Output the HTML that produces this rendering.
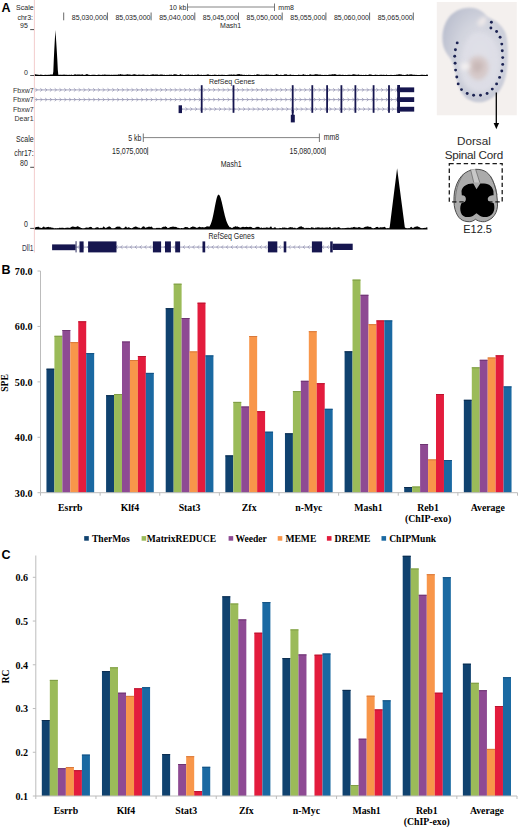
<!DOCTYPE html>
<html><head><meta charset="utf-8"><style>
html,body{margin:0;padding:0;background:#fff;}
body{width:520px;height:829px;overflow:hidden;position:relative;}
svg{position:absolute;left:0;top:0;display:block;}
</style></head><body>
<svg width="520" height="829" viewBox="0 0 520 829">
<rect x="0" y="0" width="520" height="829" fill="#ffffff"/>
<text x="1.50" y="12.00" font-family='"Liberation Sans", sans-serif' font-size="12.5" font-weight="bold" text-anchor="start" fill="#000" >A</text>
<text x="1.50" y="274.30" font-family='"Liberation Sans", sans-serif' font-size="12.5" font-weight="bold" text-anchor="start" fill="#000" >B</text>
<text x="1.50" y="558.90" font-family='"Liberation Sans", sans-serif' font-size="12.5" font-weight="bold" text-anchor="start" fill="#000" >C</text>
<rect x="46.46" y="368.70" width="7.95" height="124.00" fill="#10426f" />
<rect x="46.46" y="368.70" width="7.95" height="1.00" fill="#0b2c4e" />
<rect x="54.41" y="335.80" width="7.95" height="156.90" fill="#9bbb59" />
<rect x="54.41" y="335.80" width="7.95" height="1.00" fill="#7f9d45" />
<rect x="62.36" y="330.00" width="7.95" height="162.70" fill="#8e4a93" />
<rect x="62.36" y="330.00" width="7.95" height="1.00" fill="#6e3572" />
<rect x="70.31" y="342.10" width="7.95" height="150.60" fill="#f8964a" />
<rect x="70.31" y="342.10" width="7.95" height="1.00" fill="#d9793a" />
<rect x="78.26" y="321.30" width="7.95" height="171.40" fill="#e31c3d" />
<rect x="78.26" y="321.30" width="7.95" height="1.00" fill="#b8142f" />
<rect x="86.21" y="353.10" width="7.95" height="139.60" fill="#1a69a2" />
<rect x="86.21" y="353.10" width="7.95" height="1.00" fill="#135182" />
<rect x="106.09" y="395.20" width="7.95" height="97.50" fill="#10426f" />
<rect x="106.09" y="395.20" width="7.95" height="1.00" fill="#0b2c4e" />
<rect x="114.04" y="394.00" width="7.95" height="98.70" fill="#9bbb59" />
<rect x="114.04" y="394.00" width="7.95" height="1.00" fill="#7f9d45" />
<rect x="121.99" y="341.50" width="7.95" height="151.20" fill="#8e4a93" />
<rect x="121.99" y="341.50" width="7.95" height="1.00" fill="#6e3572" />
<rect x="129.94" y="360.00" width="7.95" height="132.70" fill="#f8964a" />
<rect x="129.94" y="360.00" width="7.95" height="1.00" fill="#d9793a" />
<rect x="137.89" y="356.00" width="7.95" height="136.70" fill="#e31c3d" />
<rect x="137.89" y="356.00" width="7.95" height="1.00" fill="#b8142f" />
<rect x="145.84" y="372.90" width="7.95" height="119.80" fill="#1a69a2" />
<rect x="145.84" y="372.90" width="7.95" height="1.00" fill="#135182" />
<rect x="165.71" y="308.20" width="7.95" height="184.50" fill="#10426f" />
<rect x="165.71" y="308.20" width="7.95" height="1.00" fill="#0b2c4e" />
<rect x="173.66" y="283.70" width="7.95" height="209.00" fill="#9bbb59" />
<rect x="173.66" y="283.70" width="7.95" height="1.00" fill="#7f9d45" />
<rect x="181.61" y="318.00" width="7.95" height="174.70" fill="#8e4a93" />
<rect x="181.61" y="318.00" width="7.95" height="1.00" fill="#6e3572" />
<rect x="189.56" y="351.40" width="7.95" height="141.30" fill="#f8964a" />
<rect x="189.56" y="351.40" width="7.95" height="1.00" fill="#d9793a" />
<rect x="197.51" y="302.70" width="7.95" height="190.00" fill="#e31c3d" />
<rect x="197.51" y="302.70" width="7.95" height="1.00" fill="#b8142f" />
<rect x="205.46" y="355.40" width="7.95" height="137.30" fill="#1a69a2" />
<rect x="205.46" y="355.40" width="7.95" height="1.00" fill="#135182" />
<rect x="225.34" y="455.40" width="7.95" height="37.30" fill="#10426f" />
<rect x="225.34" y="455.40" width="7.95" height="1.00" fill="#0b2c4e" />
<rect x="233.29" y="401.90" width="7.95" height="90.80" fill="#9bbb59" />
<rect x="233.29" y="401.90" width="7.95" height="1.00" fill="#7f9d45" />
<rect x="241.24" y="406.50" width="7.95" height="86.20" fill="#8e4a93" />
<rect x="241.24" y="406.50" width="7.95" height="1.00" fill="#6e3572" />
<rect x="249.19" y="336.00" width="7.95" height="156.70" fill="#f8964a" />
<rect x="249.19" y="336.00" width="7.95" height="1.00" fill="#d9793a" />
<rect x="257.14" y="411.20" width="7.95" height="81.50" fill="#e31c3d" />
<rect x="257.14" y="411.20" width="7.95" height="1.00" fill="#b8142f" />
<rect x="265.09" y="431.70" width="7.95" height="61.00" fill="#1a69a2" />
<rect x="265.09" y="431.70" width="7.95" height="1.00" fill="#135182" />
<rect x="284.96" y="433.30" width="7.95" height="59.40" fill="#10426f" />
<rect x="284.96" y="433.30" width="7.95" height="1.00" fill="#0b2c4e" />
<rect x="292.91" y="391.10" width="7.95" height="101.60" fill="#9bbb59" />
<rect x="292.91" y="391.10" width="7.95" height="1.00" fill="#7f9d45" />
<rect x="300.86" y="380.80" width="7.95" height="111.90" fill="#8e4a93" />
<rect x="300.86" y="380.80" width="7.95" height="1.00" fill="#6e3572" />
<rect x="308.81" y="331.20" width="7.95" height="161.50" fill="#f8964a" />
<rect x="308.81" y="331.20" width="7.95" height="1.00" fill="#d9793a" />
<rect x="316.76" y="383.20" width="7.95" height="109.50" fill="#e31c3d" />
<rect x="316.76" y="383.20" width="7.95" height="1.00" fill="#b8142f" />
<rect x="324.71" y="408.80" width="7.95" height="83.90" fill="#1a69a2" />
<rect x="324.71" y="408.80" width="7.95" height="1.00" fill="#135182" />
<rect x="344.59" y="351.30" width="7.95" height="141.40" fill="#10426f" />
<rect x="344.59" y="351.30" width="7.95" height="1.00" fill="#0b2c4e" />
<rect x="352.54" y="279.60" width="7.95" height="213.10" fill="#9bbb59" />
<rect x="352.54" y="279.60" width="7.95" height="1.00" fill="#7f9d45" />
<rect x="360.49" y="294.80" width="7.95" height="197.90" fill="#8e4a93" />
<rect x="360.49" y="294.80" width="7.95" height="1.00" fill="#6e3572" />
<rect x="368.44" y="324.20" width="7.95" height="168.50" fill="#f8964a" />
<rect x="368.44" y="324.20" width="7.95" height="1.00" fill="#d9793a" />
<rect x="376.39" y="320.40" width="7.95" height="172.30" fill="#e31c3d" />
<rect x="376.39" y="320.40" width="7.95" height="1.00" fill="#b8142f" />
<rect x="384.34" y="320.40" width="7.95" height="172.30" fill="#1a69a2" />
<rect x="384.34" y="320.40" width="7.95" height="1.00" fill="#135182" />
<rect x="404.21" y="487.00" width="7.95" height="5.70" fill="#10426f" />
<rect x="404.21" y="487.00" width="7.95" height="1.00" fill="#0b2c4e" />
<rect x="412.16" y="486.50" width="7.95" height="6.20" fill="#9bbb59" />
<rect x="412.16" y="486.50" width="7.95" height="1.00" fill="#7f9d45" />
<rect x="420.11" y="444.00" width="7.95" height="48.70" fill="#8e4a93" />
<rect x="420.11" y="444.00" width="7.95" height="1.00" fill="#6e3572" />
<rect x="428.06" y="459.40" width="7.95" height="33.30" fill="#f8964a" />
<rect x="428.06" y="459.40" width="7.95" height="1.00" fill="#d9793a" />
<rect x="436.01" y="394.00" width="7.95" height="98.70" fill="#e31c3d" />
<rect x="436.01" y="394.00" width="7.95" height="1.00" fill="#b8142f" />
<rect x="443.96" y="460.00" width="7.95" height="32.70" fill="#1a69a2" />
<rect x="443.96" y="460.00" width="7.95" height="1.00" fill="#135182" />
<rect x="463.84" y="399.80" width="7.95" height="92.90" fill="#10426f" />
<rect x="463.84" y="399.80" width="7.95" height="1.00" fill="#0b2c4e" />
<rect x="471.79" y="367.30" width="7.95" height="125.40" fill="#9bbb59" />
<rect x="471.79" y="367.30" width="7.95" height="1.00" fill="#7f9d45" />
<rect x="479.74" y="359.80" width="7.95" height="132.90" fill="#8e4a93" />
<rect x="479.74" y="359.80" width="7.95" height="1.00" fill="#6e3572" />
<rect x="487.69" y="357.50" width="7.95" height="135.20" fill="#f8964a" />
<rect x="487.69" y="357.50" width="7.95" height="1.00" fill="#d9793a" />
<rect x="495.64" y="355.30" width="7.95" height="137.40" fill="#e31c3d" />
<rect x="495.64" y="355.30" width="7.95" height="1.00" fill="#b8142f" />
<rect x="503.59" y="386.40" width="7.95" height="106.30" fill="#1a69a2" />
<rect x="503.59" y="386.40" width="7.95" height="1.00" fill="#135182" />
<line x1="40.50" y1="271.00" x2="40.50" y2="492.70" stroke="#bcbcbc" stroke-width="1" />
<line x1="40.50" y1="492.70" x2="517.50" y2="492.70" stroke="#bcbcbc" stroke-width="1" />
<line x1="37.50" y1="271.02" x2="40.50" y2="271.02" stroke="#bcbcbc" stroke-width="1" />
<text x="32.50" y="274.86" font-family='"Liberation Serif", serif' font-size="10.1" font-weight="bold" text-anchor="end" fill="#000" >70.0</text>
<line x1="37.50" y1="326.44" x2="40.50" y2="326.44" stroke="#bcbcbc" stroke-width="1" />
<text x="32.50" y="330.28" font-family='"Liberation Serif", serif' font-size="10.1" font-weight="bold" text-anchor="end" fill="#000" >60.0</text>
<line x1="37.50" y1="381.86" x2="40.50" y2="381.86" stroke="#bcbcbc" stroke-width="1" />
<text x="32.50" y="385.70" font-family='"Liberation Serif", serif' font-size="10.1" font-weight="bold" text-anchor="end" fill="#000" >50.0</text>
<line x1="37.50" y1="437.28" x2="40.50" y2="437.28" stroke="#bcbcbc" stroke-width="1" />
<text x="32.50" y="441.12" font-family='"Liberation Serif", serif' font-size="10.1" font-weight="bold" text-anchor="end" fill="#000" >40.0</text>
<line x1="37.50" y1="492.70" x2="40.50" y2="492.70" stroke="#bcbcbc" stroke-width="1" />
<text x="32.50" y="496.54" font-family='"Liberation Serif", serif' font-size="10.1" font-weight="bold" text-anchor="end" fill="#000" >30.0</text>
<line x1="40.50" y1="492.70" x2="40.50" y2="495.70" stroke="#bcbcbc" stroke-width="1" />
<line x1="100.12" y1="492.70" x2="100.12" y2="495.70" stroke="#bcbcbc" stroke-width="1" />
<line x1="159.75" y1="492.70" x2="159.75" y2="495.70" stroke="#bcbcbc" stroke-width="1" />
<line x1="219.38" y1="492.70" x2="219.38" y2="495.70" stroke="#bcbcbc" stroke-width="1" />
<line x1="279.00" y1="492.70" x2="279.00" y2="495.70" stroke="#bcbcbc" stroke-width="1" />
<line x1="338.62" y1="492.70" x2="338.62" y2="495.70" stroke="#bcbcbc" stroke-width="1" />
<line x1="398.25" y1="492.70" x2="398.25" y2="495.70" stroke="#bcbcbc" stroke-width="1" />
<line x1="457.88" y1="492.70" x2="457.88" y2="495.70" stroke="#bcbcbc" stroke-width="1" />
<line x1="517.50" y1="492.70" x2="517.50" y2="495.70" stroke="#bcbcbc" stroke-width="1" />
<text x="70.31" y="510.70" font-family='"Liberation Serif", serif' font-size="9.8" font-weight="bold" text-anchor="middle" fill="#000" >Esrrb</text>
<text x="129.94" y="510.70" font-family='"Liberation Serif", serif' font-size="9.8" font-weight="bold" text-anchor="middle" fill="#000" >Klf4</text>
<text x="189.56" y="510.70" font-family='"Liberation Serif", serif' font-size="9.8" font-weight="bold" text-anchor="middle" fill="#000" >Stat3</text>
<text x="249.19" y="510.70" font-family='"Liberation Serif", serif' font-size="9.8" font-weight="bold" text-anchor="middle" fill="#000" >Zfx</text>
<text x="308.81" y="510.70" font-family='"Liberation Serif", serif' font-size="9.8" font-weight="bold" text-anchor="middle" fill="#000" >n-Myc</text>
<text x="368.44" y="510.70" font-family='"Liberation Serif", serif' font-size="9.8" font-weight="bold" text-anchor="middle" fill="#000" >Mash1</text>
<text x="428.06" y="510.70" font-family='"Liberation Serif", serif' font-size="9.8" font-weight="bold" text-anchor="middle" fill="#000" >Reb1</text>
<text x="487.69" y="510.70" font-family='"Liberation Serif", serif' font-size="9.8" font-weight="bold" text-anchor="middle" fill="#000" >Average</text>
<text x="428.06" y="521.90" font-family='"Liberation Serif", serif' font-size="9.8" font-weight="bold" text-anchor="middle" fill="#000" >(ChIP-exo)</text>
<text transform="translate(8.3,383) rotate(-90)" font-family='"Liberation Serif", serif' font-size="9.6" font-weight="bold" text-anchor="middle" fill="#000">SPE</text>
<rect x="41.81" y="720.00" width="8.02" height="76.00" fill="#10426f" />
<rect x="41.81" y="720.00" width="8.02" height="1.00" fill="#0b2c4e" />
<rect x="49.83" y="679.90" width="8.02" height="116.10" fill="#9bbb59" />
<rect x="49.83" y="679.90" width="8.02" height="1.00" fill="#7f9d45" />
<rect x="57.85" y="768.20" width="8.02" height="27.80" fill="#8e4a93" />
<rect x="57.85" y="768.20" width="8.02" height="1.00" fill="#6e3572" />
<rect x="65.88" y="767.00" width="8.02" height="29.00" fill="#f8964a" />
<rect x="65.88" y="767.00" width="8.02" height="1.00" fill="#d9793a" />
<rect x="73.89" y="770.20" width="8.02" height="25.80" fill="#e31c3d" />
<rect x="73.89" y="770.20" width="8.02" height="1.00" fill="#b8142f" />
<rect x="81.91" y="754.60" width="8.02" height="41.40" fill="#1a69a2" />
<rect x="81.91" y="754.60" width="8.02" height="1.00" fill="#135182" />
<rect x="101.96" y="671.10" width="8.02" height="124.90" fill="#10426f" />
<rect x="101.96" y="671.10" width="8.02" height="1.00" fill="#0b2c4e" />
<rect x="109.98" y="667.30" width="8.02" height="128.70" fill="#9bbb59" />
<rect x="109.98" y="667.30" width="8.02" height="1.00" fill="#7f9d45" />
<rect x="118.00" y="692.70" width="8.02" height="103.30" fill="#8e4a93" />
<rect x="118.00" y="692.70" width="8.02" height="1.00" fill="#6e3572" />
<rect x="126.02" y="695.90" width="8.02" height="100.10" fill="#f8964a" />
<rect x="126.02" y="695.90" width="8.02" height="1.00" fill="#d9793a" />
<rect x="134.04" y="688.30" width="8.02" height="107.70" fill="#e31c3d" />
<rect x="134.04" y="688.30" width="8.02" height="1.00" fill="#b8142f" />
<rect x="142.06" y="687.20" width="8.02" height="108.80" fill="#1a69a2" />
<rect x="142.06" y="687.20" width="8.02" height="1.00" fill="#135182" />
<rect x="162.11" y="754.10" width="8.02" height="41.90" fill="#10426f" />
<rect x="162.11" y="754.10" width="8.02" height="1.00" fill="#0b2c4e" />
<rect x="178.15" y="764.00" width="8.02" height="32.00" fill="#8e4a93" />
<rect x="178.15" y="764.00" width="8.02" height="1.00" fill="#6e3572" />
<rect x="186.17" y="756.20" width="8.02" height="39.80" fill="#f8964a" />
<rect x="186.17" y="756.20" width="8.02" height="1.00" fill="#d9793a" />
<rect x="194.19" y="791.10" width="8.02" height="4.90" fill="#e31c3d" />
<rect x="194.19" y="791.10" width="8.02" height="1.00" fill="#b8142f" />
<rect x="202.21" y="766.80" width="8.02" height="29.20" fill="#1a69a2" />
<rect x="202.21" y="766.80" width="8.02" height="1.00" fill="#135182" />
<rect x="222.26" y="596.30" width="8.02" height="199.70" fill="#10426f" />
<rect x="222.26" y="596.30" width="8.02" height="1.00" fill="#0b2c4e" />
<rect x="230.28" y="603.50" width="8.02" height="192.50" fill="#9bbb59" />
<rect x="230.28" y="603.50" width="8.02" height="1.00" fill="#7f9d45" />
<rect x="238.30" y="619.40" width="8.02" height="176.60" fill="#8e4a93" />
<rect x="238.30" y="619.40" width="8.02" height="1.00" fill="#6e3572" />
<rect x="254.34" y="632.70" width="8.02" height="163.30" fill="#e31c3d" />
<rect x="254.34" y="632.70" width="8.02" height="1.00" fill="#b8142f" />
<rect x="262.37" y="602.10" width="8.02" height="193.90" fill="#1a69a2" />
<rect x="262.37" y="602.10" width="8.02" height="1.00" fill="#135182" />
<rect x="282.41" y="658.10" width="8.02" height="137.90" fill="#10426f" />
<rect x="282.41" y="658.10" width="8.02" height="1.00" fill="#0b2c4e" />
<rect x="290.43" y="629.40" width="8.02" height="166.60" fill="#9bbb59" />
<rect x="290.43" y="629.40" width="8.02" height="1.00" fill="#7f9d45" />
<rect x="298.45" y="654.40" width="8.02" height="141.60" fill="#8e4a93" />
<rect x="298.45" y="654.40" width="8.02" height="1.00" fill="#6e3572" />
<rect x="314.49" y="654.70" width="8.02" height="141.30" fill="#e31c3d" />
<rect x="314.49" y="654.70" width="8.02" height="1.00" fill="#b8142f" />
<rect x="322.51" y="653.50" width="8.02" height="142.50" fill="#1a69a2" />
<rect x="322.51" y="653.50" width="8.02" height="1.00" fill="#135182" />
<rect x="342.56" y="689.90" width="8.02" height="106.10" fill="#10426f" />
<rect x="342.56" y="689.90" width="8.02" height="1.00" fill="#0b2c4e" />
<rect x="350.58" y="785.00" width="8.02" height="11.00" fill="#9bbb59" />
<rect x="350.58" y="785.00" width="8.02" height="1.00" fill="#7f9d45" />
<rect x="358.61" y="738.70" width="8.02" height="57.30" fill="#8e4a93" />
<rect x="358.61" y="738.70" width="8.02" height="1.00" fill="#6e3572" />
<rect x="366.62" y="695.70" width="8.02" height="100.30" fill="#f8964a" />
<rect x="366.62" y="695.70" width="8.02" height="1.00" fill="#d9793a" />
<rect x="374.64" y="709.40" width="8.02" height="86.60" fill="#e31c3d" />
<rect x="374.64" y="709.40" width="8.02" height="1.00" fill="#b8142f" />
<rect x="382.66" y="700.30" width="8.02" height="95.70" fill="#1a69a2" />
<rect x="382.66" y="700.30" width="8.02" height="1.00" fill="#135182" />
<rect x="402.71" y="555.80" width="8.02" height="240.20" fill="#10426f" />
<rect x="402.71" y="555.80" width="8.02" height="1.00" fill="#0b2c4e" />
<rect x="410.73" y="568.50" width="8.02" height="227.50" fill="#9bbb59" />
<rect x="410.73" y="568.50" width="8.02" height="1.00" fill="#7f9d45" />
<rect x="418.75" y="594.80" width="8.02" height="201.20" fill="#8e4a93" />
<rect x="418.75" y="594.80" width="8.02" height="1.00" fill="#6e3572" />
<rect x="426.77" y="574.20" width="8.02" height="221.80" fill="#f8964a" />
<rect x="426.77" y="574.20" width="8.02" height="1.00" fill="#d9793a" />
<rect x="434.79" y="692.70" width="8.02" height="103.30" fill="#e31c3d" />
<rect x="434.79" y="692.70" width="8.02" height="1.00" fill="#b8142f" />
<rect x="442.81" y="577.20" width="8.02" height="218.80" fill="#1a69a2" />
<rect x="442.81" y="577.20" width="8.02" height="1.00" fill="#135182" />
<rect x="462.87" y="663.70" width="8.02" height="132.30" fill="#10426f" />
<rect x="462.87" y="663.70" width="8.02" height="1.00" fill="#0b2c4e" />
<rect x="470.88" y="682.80" width="8.02" height="113.20" fill="#9bbb59" />
<rect x="470.88" y="682.80" width="8.02" height="1.00" fill="#7f9d45" />
<rect x="478.91" y="690.20" width="8.02" height="105.80" fill="#8e4a93" />
<rect x="478.91" y="690.20" width="8.02" height="1.00" fill="#6e3572" />
<rect x="486.93" y="748.90" width="8.02" height="47.10" fill="#f8964a" />
<rect x="486.93" y="748.90" width="8.02" height="1.00" fill="#d9793a" />
<rect x="494.94" y="706.00" width="8.02" height="90.00" fill="#e31c3d" />
<rect x="494.94" y="706.00" width="8.02" height="1.00" fill="#b8142f" />
<rect x="502.97" y="677.20" width="8.02" height="118.80" fill="#1a69a2" />
<rect x="502.97" y="677.20" width="8.02" height="1.00" fill="#135182" />
<line x1="35.80" y1="555.50" x2="35.80" y2="796.00" stroke="#bcbcbc" stroke-width="1" />
<line x1="35.80" y1="796.00" x2="517.00" y2="796.00" stroke="#bcbcbc" stroke-width="1" />
<line x1="32.80" y1="577.30" x2="35.80" y2="577.30" stroke="#bcbcbc" stroke-width="1" />
<text x="28.00" y="581.13" font-family='"Liberation Serif", serif' font-size="10.1" font-weight="bold" text-anchor="end" fill="#000" >0.6</text>
<line x1="32.80" y1="621.04" x2="35.80" y2="621.04" stroke="#bcbcbc" stroke-width="1" />
<text x="28.00" y="624.87" font-family='"Liberation Serif", serif' font-size="10.1" font-weight="bold" text-anchor="end" fill="#000" >0.5</text>
<line x1="32.80" y1="664.78" x2="35.80" y2="664.78" stroke="#bcbcbc" stroke-width="1" />
<text x="28.00" y="668.61" font-family='"Liberation Serif", serif' font-size="10.1" font-weight="bold" text-anchor="end" fill="#000" >0.4</text>
<line x1="32.80" y1="708.52" x2="35.80" y2="708.52" stroke="#bcbcbc" stroke-width="1" />
<text x="28.00" y="712.35" font-family='"Liberation Serif", serif' font-size="10.1" font-weight="bold" text-anchor="end" fill="#000" >0.3</text>
<line x1="32.80" y1="752.26" x2="35.80" y2="752.26" stroke="#bcbcbc" stroke-width="1" />
<text x="28.00" y="756.09" font-family='"Liberation Serif", serif' font-size="10.1" font-weight="bold" text-anchor="end" fill="#000" >0.2</text>
<line x1="32.80" y1="796.00" x2="35.80" y2="796.00" stroke="#bcbcbc" stroke-width="1" />
<text x="28.00" y="799.83" font-family='"Liberation Serif", serif' font-size="10.1" font-weight="bold" text-anchor="end" fill="#000" >0.1</text>
<line x1="35.80" y1="796.00" x2="35.80" y2="799.00" stroke="#bcbcbc" stroke-width="1" />
<line x1="95.95" y1="796.00" x2="95.95" y2="799.00" stroke="#bcbcbc" stroke-width="1" />
<line x1="156.10" y1="796.00" x2="156.10" y2="799.00" stroke="#bcbcbc" stroke-width="1" />
<line x1="216.25" y1="796.00" x2="216.25" y2="799.00" stroke="#bcbcbc" stroke-width="1" />
<line x1="276.40" y1="796.00" x2="276.40" y2="799.00" stroke="#bcbcbc" stroke-width="1" />
<line x1="336.55" y1="796.00" x2="336.55" y2="799.00" stroke="#bcbcbc" stroke-width="1" />
<line x1="396.70" y1="796.00" x2="396.70" y2="799.00" stroke="#bcbcbc" stroke-width="1" />
<line x1="456.85" y1="796.00" x2="456.85" y2="799.00" stroke="#bcbcbc" stroke-width="1" />
<line x1="517.00" y1="796.00" x2="517.00" y2="799.00" stroke="#bcbcbc" stroke-width="1" />
<text x="65.88" y="813.80" font-family='"Liberation Serif", serif' font-size="9.8" font-weight="bold" text-anchor="middle" fill="#000" >Esrrb</text>
<text x="126.02" y="813.80" font-family='"Liberation Serif", serif' font-size="9.8" font-weight="bold" text-anchor="middle" fill="#000" >Klf4</text>
<text x="186.18" y="813.80" font-family='"Liberation Serif", serif' font-size="9.8" font-weight="bold" text-anchor="middle" fill="#000" >Stat3</text>
<text x="246.32" y="813.80" font-family='"Liberation Serif", serif' font-size="9.8" font-weight="bold" text-anchor="middle" fill="#000" >Zfx</text>
<text x="306.48" y="813.80" font-family='"Liberation Serif", serif' font-size="9.8" font-weight="bold" text-anchor="middle" fill="#000" >n-Myc</text>
<text x="366.62" y="813.80" font-family='"Liberation Serif", serif' font-size="9.8" font-weight="bold" text-anchor="middle" fill="#000" >Mash1</text>
<text x="426.77" y="813.80" font-family='"Liberation Serif", serif' font-size="9.8" font-weight="bold" text-anchor="middle" fill="#000" >Reb1</text>
<text x="486.93" y="813.80" font-family='"Liberation Serif", serif' font-size="9.8" font-weight="bold" text-anchor="middle" fill="#000" >Average</text>
<text x="426.77" y="825.00" font-family='"Liberation Serif", serif' font-size="9.8" font-weight="bold" text-anchor="middle" fill="#000" >(ChIP-exo)</text>
<text transform="translate(9.2,676.5) rotate(-90)" font-family='"Liberation Serif", serif' font-size="9.6" font-weight="bold" text-anchor="middle" fill="#000">RC</text>
<rect x="84.20" y="536.10" width="4.60" height="4.60" fill="#10426f" />
<text x="91.90" y="541.90" font-family='"Liberation Serif", serif' font-size="9.6" font-weight="bold" text-anchor="start" fill="#000" >TherMos</text>
<rect x="141.60" y="536.10" width="4.60" height="4.60" fill="#9bbb59" />
<text x="146.80" y="541.90" font-family='"Liberation Serif", serif' font-size="9.6" font-weight="bold" text-anchor="start" fill="#000" >MatrixREDUCE</text>
<rect x="228.60" y="536.10" width="4.60" height="4.60" fill="#8e4a93" />
<text x="235.40" y="541.90" font-family='"Liberation Serif", serif' font-size="9.6" font-weight="bold" text-anchor="start" fill="#000" >Weeder</text>
<rect x="277.70" y="536.10" width="4.60" height="4.60" fill="#f8964a" />
<text x="285.40" y="541.90" font-family='"Liberation Serif", serif' font-size="9.6" font-weight="bold" text-anchor="start" fill="#000" >MEME</text>
<rect x="326.90" y="536.10" width="4.60" height="4.60" fill="#e31c3d" />
<text x="334.60" y="541.90" font-family='"Liberation Serif", serif' font-size="9.6" font-weight="bold" text-anchor="start" fill="#000" >DREME</text>
<rect x="381.50" y="536.10" width="4.60" height="4.60" fill="#1a69a2" />
<text x="389.20" y="541.90" font-family='"Liberation Serif", serif' font-size="9.6" font-weight="bold" text-anchor="start" fill="#000" >ChIPMunk</text>
<line x1="34.40" y1="0.00" x2="34.40" y2="252.50" stroke="#f0c6c6" stroke-width="0.9" />
<text x="33.60" y="9.80" font-family='"Liberation Sans", sans-serif' font-size="7.0" font-weight="normal" text-anchor="end" fill="#1e1e1e" >Scale</text>
<text x="33.00" y="20.00" font-family='"Liberation Sans", sans-serif' font-size="7.0" font-weight="normal" text-anchor="end" fill="#1e1e1e" >chr3:</text>
<text x="27.80" y="28.30" font-family='"Liberation Sans", sans-serif' font-size="7.0" font-weight="normal" text-anchor="end" fill="#1e1e1e" >95</text>
<line x1="30.20" y1="29.60" x2="34.00" y2="29.60" stroke="#1e1e1e" stroke-width="0.8" />
<text x="27.80" y="75.00" font-family='"Liberation Sans", sans-serif' font-size="7.0" font-weight="normal" text-anchor="end" fill="#1e1e1e" >0</text>
<line x1="30.20" y1="75.50" x2="34.00" y2="75.50" stroke="#1e1e1e" stroke-width="0.8" />
<text x="186.30" y="10.00" font-family='"Liberation Sans", sans-serif' font-size="7.0" font-weight="normal" text-anchor="end" fill="#1e1e1e" >10 kb</text>
<line x1="187.50" y1="7.00" x2="274.50" y2="7.00" stroke="#777" stroke-width="0.9" />
<line x1="187.50" y1="3.50" x2="187.50" y2="11.00" stroke="#555" stroke-width="0.8" />
<line x1="274.50" y1="3.50" x2="274.50" y2="11.00" stroke="#555" stroke-width="0.8" />
<text x="278.30" y="10.00" font-family='"Liberation Sans", sans-serif' font-size="7.0" font-weight="normal" text-anchor="start" fill="#1e1e1e" >mm8</text>
<line x1="63.70" y1="12.50" x2="63.70" y2="20.30" stroke="#444" stroke-width="0.8" />
<line x1="107.40" y1="12.50" x2="107.40" y2="20.30" stroke="#444" stroke-width="0.8" />
<text x="106.80" y="19.80" font-family='"Liberation Sans", sans-serif' font-size="7.0" font-weight="normal" text-anchor="end" fill="#1e1e1e" >85,030,000</text>
<line x1="151.10" y1="12.50" x2="151.10" y2="20.30" stroke="#444" stroke-width="0.8" />
<text x="150.50" y="19.80" font-family='"Liberation Sans", sans-serif' font-size="7.0" font-weight="normal" text-anchor="end" fill="#1e1e1e" >85,035,000</text>
<line x1="194.80" y1="12.50" x2="194.80" y2="20.30" stroke="#444" stroke-width="0.8" />
<text x="194.20" y="19.80" font-family='"Liberation Sans", sans-serif' font-size="7.0" font-weight="normal" text-anchor="end" fill="#1e1e1e" >85,040,000</text>
<line x1="238.50" y1="12.50" x2="238.50" y2="20.30" stroke="#444" stroke-width="0.8" />
<text x="237.90" y="19.80" font-family='"Liberation Sans", sans-serif' font-size="7.0" font-weight="normal" text-anchor="end" fill="#1e1e1e" >85,045,000</text>
<line x1="282.20" y1="12.50" x2="282.20" y2="20.30" stroke="#444" stroke-width="0.8" />
<text x="281.60" y="19.80" font-family='"Liberation Sans", sans-serif' font-size="7.0" font-weight="normal" text-anchor="end" fill="#1e1e1e" >85,050,000</text>
<line x1="325.90" y1="12.50" x2="325.90" y2="20.30" stroke="#444" stroke-width="0.8" />
<text x="325.30" y="19.80" font-family='"Liberation Sans", sans-serif' font-size="7.0" font-weight="normal" text-anchor="end" fill="#1e1e1e" >85,055,000</text>
<line x1="369.60" y1="12.50" x2="369.60" y2="20.30" stroke="#444" stroke-width="0.8" />
<text x="369.00" y="19.80" font-family='"Liberation Sans", sans-serif' font-size="7.0" font-weight="normal" text-anchor="end" fill="#1e1e1e" >85,060,000</text>
<line x1="413.30" y1="12.50" x2="413.30" y2="20.30" stroke="#444" stroke-width="0.8" />
<text x="412.70" y="19.80" font-family='"Liberation Sans", sans-serif' font-size="7.0" font-weight="normal" text-anchor="end" fill="#1e1e1e" >85,065,000</text>
<text x="230.60" y="27.50" font-family='"Liberation Sans", sans-serif' font-size="7.0" font-weight="normal" text-anchor="middle" fill="#1e1e1e" >Mash1</text>
<path d="M34.8,76.1 L34.80,74.35 L35.30,74.34 L35.80,74.28 L36.30,74.44 L36.80,74.41 L37.30,74.50 L37.80,74.87 L38.30,74.87 L38.80,74.83 L39.30,74.89 L39.80,74.75 L40.30,74.67 L40.80,74.52 L41.30,74.57 L41.80,74.97 L42.30,74.83 L42.80,75.00 L43.30,75.00 L43.80,74.89 L44.30,74.71 L44.80,75.00 L45.30,74.77 L45.80,74.71 L46.30,74.99 L46.80,74.80 L47.30,74.73 L47.80,74.96 L48.30,74.80 L48.80,74.78 L49.30,74.85 L49.80,74.72 L50.30,74.58 L50.80,74.42 L51.30,74.49 L51.80,74.58 L52.30,74.46 L52.80,74.42 L53.30,71.66 L53.80,59.41 L54.30,49.37 L54.80,40.23 L55.30,31.66 L55.40,30.00 L55.80,35.69 L56.30,43.11 L56.80,50.99 L57.30,59.57 L57.80,69.65 L58.30,74.75 L58.80,74.84 L59.30,74.92 L59.80,74.52 L60.30,74.57 L60.80,75.00 L61.30,74.76 L61.80,74.73 L62.30,74.82 L62.80,74.76 L63.30,74.76 L63.80,74.45 L64.30,74.44 L64.80,74.83 L65.30,74.70 L65.80,74.77 L66.30,74.86 L66.80,74.80 L67.30,74.99 L67.80,74.70 L68.30,74.67 L68.80,75.00 L69.30,74.84 L69.80,74.83 L70.30,74.89 L70.80,74.74 L71.30,74.73 L71.80,74.49 L72.30,74.91 L72.80,74.89 L73.30,74.86 L73.80,75.00 L74.30,74.51 L74.80,74.33 L75.30,74.16 L75.80,74.58 L76.30,74.69 L76.80,74.50 L77.30,74.59 L77.80,74.42 L78.30,74.60 L78.80,74.43 L79.30,74.44 L79.80,74.51 L80.30,74.52 L80.80,74.77 L81.30,74.64 L81.80,74.35 L82.30,74.37 L82.80,74.52 L83.30,74.74 L83.80,74.96 L84.30,75.00 L84.80,74.66 L85.30,74.84 L85.80,74.38 L86.30,74.37 L86.80,74.11 L87.30,74.22 L87.80,74.19 L88.30,74.73 L88.80,74.70 L89.30,74.82 L89.80,74.99 L90.30,74.90 L90.80,74.89 L91.30,74.71 L91.80,74.91 L92.30,74.65 L92.80,74.64 L93.30,74.74 L93.80,74.75 L94.30,74.64 L94.80,74.79 L95.30,74.90 L95.80,74.83 L96.30,74.96 L96.80,75.00 L97.30,75.00 L97.80,74.84 L98.30,74.66 L98.80,74.54 L99.30,74.63 L99.80,74.87 L100.30,74.66 L100.80,74.92 L101.30,74.73 L101.80,74.90 L102.30,74.63 L102.80,74.42 L103.30,74.68 L103.80,74.69 L104.30,74.42 L104.80,74.45 L105.30,74.55 L105.80,74.77 L106.30,74.63 L106.80,74.69 L107.30,74.79 L107.80,74.66 L108.30,74.86 L108.80,74.78 L109.30,74.70 L109.80,74.78 L110.30,74.90 L110.80,74.78 L111.30,74.83 L111.80,74.83 L112.30,74.84 L112.80,74.95 L113.30,74.84 L113.80,74.83 L114.30,74.68 L114.80,74.76 L115.30,74.73 L115.80,74.75 L116.30,74.64 L116.80,74.67 L117.30,74.74 L117.80,74.75 L118.30,74.52 L118.80,74.37 L119.30,74.39 L119.80,74.48 L120.30,74.08 L120.80,74.26 L121.30,74.33 L121.80,74.65 L122.30,74.57 L122.80,74.52 L123.30,74.66 L123.80,74.68 L124.30,74.55 L124.80,74.91 L125.30,74.73 L125.80,74.47 L126.30,74.49 L126.80,74.54 L127.30,74.32 L127.80,74.32 L128.30,74.51 L128.80,74.53 L129.30,74.24 L129.80,74.63 L130.30,74.83 L130.80,74.56 L131.30,74.83 L131.80,74.90 L132.30,74.73 L132.80,74.46 L133.30,74.62 L133.80,74.28 L134.30,74.21 L134.80,74.18 L135.30,74.52 L135.80,74.47 L136.30,74.80 L136.80,74.79 L137.30,75.00 L137.80,74.76 L138.30,74.62 L138.80,74.80 L139.30,74.81 L139.80,74.46 L140.30,74.66 L140.80,74.71 L141.30,75.00 L141.80,74.51 L142.30,74.55 L142.80,74.65 L143.30,74.58 L143.80,74.44 L144.30,74.49 L144.80,74.88 L145.30,74.78 L145.80,75.00 L146.30,74.66 L146.80,74.93 L147.30,74.69 L147.80,74.79 L148.30,74.85 L148.80,75.00 L149.30,74.89 L149.80,75.00 L150.30,75.00 L150.80,74.62 L151.30,74.69 L151.80,74.39 L152.30,74.57 L152.80,74.29 L153.30,74.28 L153.80,74.51 L154.30,74.67 L154.80,74.55 L155.30,74.41 L155.80,74.55 L156.30,74.50 L156.80,74.61 L157.30,74.42 L157.80,74.39 L158.30,74.85 L158.80,75.00 L159.30,74.80 L159.80,74.74 L160.30,74.56 L160.80,74.60 L161.30,74.64 L161.80,74.37 L162.30,74.78 L162.80,74.61 L163.30,75.00 L163.80,74.82 L164.30,74.66 L164.80,74.70 L165.30,74.88 L165.80,75.00 L166.30,74.74 L166.80,74.92 L167.30,74.86 L167.80,75.00 L168.30,74.79 L168.80,74.98 L169.30,74.77 L169.80,74.52 L170.30,74.45 L170.80,74.95 L171.30,74.63 L171.80,74.58 L172.30,74.88 L172.80,74.92 L173.30,74.65 L173.80,74.32 L174.30,74.45 L174.80,74.12 L175.30,74.16 L175.80,74.51 L176.30,74.23 L176.80,74.82 L177.30,74.93 L177.80,74.82 L178.30,75.00 L178.80,74.96 L179.30,75.00 L179.80,74.56 L180.30,74.20 L180.80,74.23 L181.30,74.69 L181.80,74.78 L182.30,74.58 L182.80,75.00 L183.30,75.00 L183.80,75.00 L184.30,75.00 L184.80,75.00 L185.30,74.83 L185.80,74.78 L186.30,74.81 L186.80,74.73 L187.30,74.69 L187.80,74.71 L188.30,74.55 L188.80,74.44 L189.30,74.73 L189.80,75.00 L190.30,75.00 L190.80,74.68 L191.30,74.85 L191.80,74.98 L192.30,74.85 L192.80,74.87 L193.30,74.89 L193.80,74.98 L194.30,74.73 L194.80,74.69 L195.30,74.87 L195.80,74.66 L196.30,74.91 L196.80,74.64 L197.30,74.52 L197.80,74.46 L198.30,74.51 L198.80,74.60 L199.30,74.99 L199.80,74.66 L200.30,75.00 L200.80,74.63 L201.30,74.66 L201.80,74.68 L202.30,75.00 L202.80,75.00 L203.30,74.74 L203.80,74.92 L204.30,74.96 L204.80,74.66 L205.30,75.00 L205.80,74.86 L206.30,74.70 L206.80,74.67 L207.30,74.42 L207.80,74.23 L208.30,74.20 L208.80,74.78 L209.30,74.72 L209.80,75.00 L210.30,74.75 L210.80,75.00 L211.30,75.00 L211.80,74.96 L212.30,74.78 L212.80,74.99 L213.30,75.00 L213.80,74.75 L214.30,74.70 L214.80,74.58 L215.30,74.83 L215.80,74.81 L216.30,75.00 L216.80,74.87 L217.30,74.98 L217.80,74.98 L218.30,74.76 L218.80,74.67 L219.30,74.86 L219.80,75.00 L220.30,74.82 L220.80,74.93 L221.30,74.66 L221.80,74.79 L222.30,74.73 L222.80,74.80 L223.30,74.88 L223.80,74.70 L224.30,74.73 L224.80,75.00 L225.30,75.00 L225.80,74.96 L226.30,74.89 L226.80,75.00 L227.30,74.98 L227.80,74.86 L228.30,75.00 L228.80,74.53 L229.30,74.57 L229.80,74.76 L230.30,74.68 L230.80,74.58 L231.30,74.59 L231.80,74.43 L232.30,74.66 L232.80,74.68 L233.30,74.74 L233.80,74.30 L234.30,74.62 L234.80,74.72 L235.30,75.00 L235.80,74.61 L236.30,74.74 L236.80,74.40 L237.30,74.29 L237.80,74.18 L238.30,74.19 L238.80,74.11 L239.30,74.11 L239.80,74.21 L240.30,74.60 L240.80,74.50 L241.30,74.58 L241.80,74.49 L242.30,74.71 L242.80,74.80 L243.30,74.78 L243.80,74.97 L244.30,74.68 L244.80,74.83 L245.30,74.95 L245.80,74.92 L246.30,74.66 L246.80,74.88 L247.30,75.00 L247.80,75.00 L248.30,74.81 L248.80,74.87 L249.30,74.70 L249.80,75.00 L250.30,74.94 L250.80,74.79 L251.30,75.00 L251.80,75.00 L252.30,74.88 L252.80,75.00 L253.30,75.00 L253.80,74.95 L254.30,74.74 L254.80,74.78 L255.30,75.00 L255.80,75.00 L256.30,74.52 L256.80,74.38 L257.30,74.44 L257.80,74.03 L258.30,74.51 L258.80,74.52 L259.30,74.51 L259.80,74.79 L260.30,75.00 L260.80,74.70 L261.30,74.85 L261.80,74.72 L262.30,74.70 L262.80,74.94 L263.30,74.81 L263.80,74.88 L264.30,74.68 L264.80,74.69 L265.30,74.64 L265.80,74.51 L266.30,74.36 L266.80,74.69 L267.30,74.71 L267.80,74.46 L268.30,74.50 L268.80,74.70 L269.30,74.80 L269.80,74.90 L270.30,74.69 L270.80,74.75 L271.30,74.86 L271.80,75.00 L272.30,74.72 L272.80,74.92 L273.30,75.00 L273.80,75.00 L274.30,74.80 L274.80,75.00 L275.30,74.82 L275.80,74.50 L276.30,74.11 L276.80,74.24 L277.30,74.32 L277.80,74.79 L278.30,74.86 L278.80,74.87 L279.30,74.89 L279.80,74.88 L280.30,74.74 L280.80,74.67 L281.30,74.95 L281.80,74.84 L282.30,75.00 L282.80,75.00 L283.30,74.90 L283.80,74.80 L284.30,74.62 L284.80,74.25 L285.30,74.55 L285.80,74.29 L286.30,74.18 L286.80,74.45 L287.30,74.71 L287.80,74.97 L288.30,74.95 L288.80,74.68 L289.30,74.64 L289.80,74.70 L290.30,74.57 L290.80,74.57 L291.30,74.66 L291.80,74.96 L292.30,74.92 L292.80,74.75 L293.30,74.96 L293.80,74.78 L294.30,74.91 L294.80,74.98 L295.30,74.92 L295.80,75.00 L296.30,74.97 L296.80,74.94 L297.30,75.00 L297.80,74.95 L298.30,74.83 L298.80,74.52 L299.30,74.71 L299.80,74.98 L300.30,74.65 L300.80,75.00 L301.30,74.89 L301.80,74.78 L302.30,74.69 L302.80,74.52 L303.30,74.18 L303.80,74.36 L304.30,74.48 L304.80,74.90 L305.30,74.66 L305.80,74.79 L306.30,75.00 L306.80,75.00 L307.30,74.67 L307.80,75.00 L308.30,75.00 L308.80,75.00 L309.30,74.77 L309.80,74.32 L310.30,74.49 L310.80,74.37 L311.30,74.50 L311.80,75.00 L312.30,74.84 L312.80,74.65 L313.30,74.79 L313.80,74.67 L314.30,74.64 L314.80,74.22 L315.30,74.11 L315.80,74.47 L316.30,74.21 L316.80,74.27 L317.30,74.17 L317.80,74.51 L318.30,74.53 L318.80,74.63 L319.30,74.66 L319.80,74.53 L320.30,74.60 L320.80,74.76 L321.30,74.81 L321.80,75.00 L322.30,74.96 L322.80,74.82 L323.30,75.00 L323.80,74.90 L324.30,74.70 L324.80,75.00 L325.30,74.72 L325.80,75.00 L326.30,74.96 L326.80,74.70 L327.30,75.00 L327.80,74.89 L328.30,74.88 L328.80,74.55 L329.30,74.45 L329.80,74.83 L330.30,74.71 L330.80,74.39 L331.30,74.45 L331.80,74.52 L332.30,74.17 L332.80,74.33 L333.30,74.23 L333.80,74.49 L334.30,74.04 L334.80,74.28 L335.30,74.24 L335.80,74.33 L336.30,74.81 L336.80,74.79 L337.30,74.93 L337.80,74.77 L338.30,74.66 L338.80,74.79 L339.30,74.65 L339.80,74.41 L340.30,74.61 L340.80,74.89 L341.30,75.00 L341.80,74.87 L342.30,74.85 L342.80,74.66 L343.30,74.88 L343.80,74.85 L344.30,75.00 L344.80,74.94 L345.30,75.00 L345.80,74.80 L346.30,75.00 L346.80,75.00 L347.30,74.90 L347.80,74.78 L348.30,74.80 L348.80,74.65 L349.30,74.88 L349.80,74.58 L350.30,74.74 L350.80,74.88 L351.30,75.00 L351.80,74.83 L352.30,74.53 L352.80,74.45 L353.30,74.28 L353.80,74.18 L354.30,74.43 L354.80,74.35 L355.30,74.46 L355.80,74.63 L356.30,74.71 L356.80,74.76 L357.30,74.88 L357.80,74.61 L358.30,74.52 L358.80,74.62 L359.30,74.63 L359.80,74.96 L360.30,75.00 L360.80,74.87 L361.30,74.71 L361.80,74.94 L362.30,75.00 L362.80,75.00 L363.30,75.00 L363.80,74.84 L364.30,75.00 L364.80,75.00 L365.30,74.81 L365.80,74.66 L366.30,74.98 L366.80,74.85 L367.30,74.89 L367.80,75.00 L368.30,74.79 L368.80,74.74 L369.30,74.58 L369.80,74.26 L370.30,74.31 L370.80,74.69 L371.30,74.78 L371.80,74.61 L372.30,75.00 L372.80,74.98 L373.30,74.92 L373.80,74.96 L374.30,74.92 L374.80,74.84 L375.30,74.71 L375.80,74.47 L376.30,74.67 L376.80,74.95 L377.30,74.81 L377.80,75.00 L378.30,74.89 L378.80,74.99 L379.30,74.68 L379.80,74.97 L380.30,74.75 L380.80,74.83 L381.30,74.73 L381.80,74.85 L382.30,74.71 L382.80,74.95 L383.30,74.81 L383.80,74.84 L384.30,74.89 L384.80,74.87 L385.30,74.88 L385.80,74.94 L386.30,74.62 L386.80,74.79 L387.30,74.88 L387.80,75.00 L388.30,74.90 L388.80,75.00 L389.30,75.00 L389.80,74.93 L390.30,74.84 L390.80,74.97 L391.30,74.96 L391.80,74.85 L392.30,74.91 L392.80,74.95 L393.30,75.00 L393.80,74.96 L394.30,74.82 L394.80,74.88 L395.30,74.88 L395.80,74.73 L396.30,74.69 L396.80,74.58 L397.30,74.78 L397.80,74.53 L398.30,74.26 L398.80,74.47 L399.30,74.08 L399.80,74.48 L400.30,74.17 L400.80,74.59 L401.30,74.38 L401.80,74.51 L402.30,74.89 L402.80,74.71 L403.30,75.00 L403.80,74.73 L404.30,74.96 L404.80,74.93 L405.30,75.00 L405.80,74.73 L406.30,74.73 L406.80,74.43 L407.30,74.36 L407.80,74.55 L408.30,75.00 L408.80,74.52 L409.30,74.40 L409.80,74.41 L410.30,74.46 L410.80,74.34 L411.30,74.21 L411.80,74.50 L412.30,74.46 L412.80,74.70 L413.30,74.94 L413.80,74.58 L414.30,74.77 L414.80,74.64 L415.30,74.95 L415.80,74.82 L416.30,75.00 L416.80,74.80 L417.30,75.00 L417.80,75.00 L418.30,75.00 L418.80,75.00 L419.30,74.90 L419.80,74.97 L420.30,75.00 L420.80,74.66 L421.30,74.70 L421.80,74.81 L422.30,74.72 L422.80,74.72 L423.30,75.00 L423.80,74.75 L424.30,75.00 L424.80,74.87 L425.30,74.97 L425.80,75.00 L426.30,74.65 L426.80,74.43 L427.30,74.65 L427.80,74.38 L428.0,76.1 Z" fill="#000"/>
<text x="254.80" y="83.50" font-family='"Liberation Sans", sans-serif' font-size="7.0" font-weight="normal" text-anchor="end" fill="#1e1e1e" >RefSeq Genes</text>
<text x="33.60" y="92.90" font-family='"Liberation Sans", sans-serif' font-size="7.0" font-weight="normal" text-anchor="end" fill="#333" >Fbxw7</text>
<text x="33.60" y="102.30" font-family='"Liberation Sans", sans-serif' font-size="7.0" font-weight="normal" text-anchor="end" fill="#333" >Fbxw7</text>
<text x="33.60" y="111.60" font-family='"Liberation Sans", sans-serif' font-size="7.0" font-weight="normal" text-anchor="end" fill="#333" >Fbxw7</text>
<text x="33.60" y="120.80" font-family='"Liberation Sans", sans-serif' font-size="7.0" font-weight="normal" text-anchor="end" fill="#333" >Dear1</text>
<line x1="34.80" y1="89.90" x2="414.00" y2="89.90" stroke="#8e8eae" stroke-width="0.8" />
<path d="M35.5,88.3 L37.4,89.9 L35.5,91.5 M40.3,88.3 L42.2,89.9 L40.3,91.5 M45.1,88.3 L47.0,89.9 L45.1,91.5 M49.9,88.3 L51.8,89.9 L49.9,91.5 M54.7,88.3 L56.6,89.9 L54.7,91.5 M59.5,88.3 L61.4,89.9 L59.5,91.5 M64.3,88.3 L66.2,89.9 L64.3,91.5 M69.1,88.3 L71.0,89.9 L69.1,91.5 M73.9,88.3 L75.8,89.9 L73.9,91.5 M78.7,88.3 L80.6,89.9 L78.7,91.5 M83.5,88.3 L85.4,89.9 L83.5,91.5 M88.3,88.3 L90.2,89.9 L88.3,91.5 M93.1,88.3 L95.0,89.9 L93.1,91.5 M97.9,88.3 L99.8,89.9 L97.9,91.5 M102.7,88.3 L104.6,89.9 L102.7,91.5 M107.5,88.3 L109.4,89.9 L107.5,91.5 M112.3,88.3 L114.2,89.9 L112.3,91.5 M117.1,88.3 L119.0,89.9 L117.1,91.5 M121.9,88.3 L123.8,89.9 L121.9,91.5 M126.7,88.3 L128.6,89.9 L126.7,91.5 M131.5,88.3 L133.4,89.9 L131.5,91.5 M136.3,88.3 L138.2,89.9 L136.3,91.5 M141.1,88.3 L143.0,89.9 L141.1,91.5 M145.9,88.3 L147.8,89.9 L145.9,91.5 M150.7,88.3 L152.6,89.9 L150.7,91.5 M155.5,88.3 L157.4,89.9 L155.5,91.5 M160.3,88.3 L162.2,89.9 L160.3,91.5 M165.1,88.3 L167.0,89.9 L165.1,91.5 M169.9,88.3 L171.8,89.9 L169.9,91.5 M174.7,88.3 L176.6,89.9 L174.7,91.5 M179.5,88.3 L181.4,89.9 L179.5,91.5 M184.3,88.3 L186.2,89.9 L184.3,91.5 M189.1,88.3 L191.0,89.9 L189.1,91.5 M193.9,88.3 L195.8,89.9 L193.9,91.5 M198.7,88.3 L200.6,89.9 L198.7,91.5 M203.5,88.3 L205.4,89.9 L203.5,91.5 M208.3,88.3 L210.2,89.9 L208.3,91.5 M213.1,88.3 L215.0,89.9 L213.1,91.5 M217.9,88.3 L219.8,89.9 L217.9,91.5 M222.7,88.3 L224.6,89.9 L222.7,91.5 M227.5,88.3 L229.4,89.9 L227.5,91.5 M232.3,88.3 L234.2,89.9 L232.3,91.5 M237.1,88.3 L239.0,89.9 L237.1,91.5 M241.9,88.3 L243.8,89.9 L241.9,91.5 M246.7,88.3 L248.6,89.9 L246.7,91.5 M251.5,88.3 L253.4,89.9 L251.5,91.5 M256.3,88.3 L258.2,89.9 L256.3,91.5 M261.1,88.3 L263.0,89.9 L261.1,91.5 M265.9,88.3 L267.8,89.9 L265.9,91.5 M270.7,88.3 L272.6,89.9 L270.7,91.5 M275.5,88.3 L277.4,89.9 L275.5,91.5 M280.3,88.3 L282.2,89.9 L280.3,91.5 M285.1,88.3 L287.0,89.9 L285.1,91.5 M289.9,88.3 L291.8,89.9 L289.9,91.5 M294.7,88.3 L296.6,89.9 L294.7,91.5 M299.5,88.3 L301.4,89.9 L299.5,91.5 M304.3,88.3 L306.2,89.9 L304.3,91.5 M309.1,88.3 L311.0,89.9 L309.1,91.5 M313.9,88.3 L315.8,89.9 L313.9,91.5 M318.7,88.3 L320.6,89.9 L318.7,91.5 M323.5,88.3 L325.4,89.9 L323.5,91.5 M328.3,88.3 L330.2,89.9 L328.3,91.5 M333.1,88.3 L335.0,89.9 L333.1,91.5 M337.9,88.3 L339.8,89.9 L337.9,91.5 M342.7,88.3 L344.6,89.9 L342.7,91.5 M347.5,88.3 L349.4,89.9 L347.5,91.5 M352.3,88.3 L354.2,89.9 L352.3,91.5 M357.1,88.3 L359.0,89.9 L357.1,91.5 M361.9,88.3 L363.8,89.9 L361.9,91.5 M366.7,88.3 L368.6,89.9 L366.7,91.5 M371.5,88.3 L373.4,89.9 L371.5,91.5 M376.3,88.3 L378.2,89.9 L376.3,91.5 M381.1,88.3 L383.0,89.9 L381.1,91.5 M385.9,88.3 L387.8,89.9 L385.9,91.5 M390.7,88.3 L392.6,89.9 L390.7,91.5 M395.5,88.3 L397.4,89.9 L395.5,91.5 M400.3,88.3 L402.2,89.9 L400.3,91.5 M405.1,88.3 L407.0,89.9 L405.1,91.5 M409.9,88.3 L411.8,89.9 L409.9,91.5" fill="none" stroke="#8e8eae" stroke-width="0.7"/>
<line x1="34.80" y1="99.60" x2="414.00" y2="99.60" stroke="#8e8eae" stroke-width="0.8" />
<path d="M35.5,98.0 L37.4,99.6 L35.5,101.2 M40.3,98.0 L42.2,99.6 L40.3,101.2 M45.1,98.0 L47.0,99.6 L45.1,101.2 M49.9,98.0 L51.8,99.6 L49.9,101.2 M54.7,98.0 L56.6,99.6 L54.7,101.2 M59.5,98.0 L61.4,99.6 L59.5,101.2 M64.3,98.0 L66.2,99.6 L64.3,101.2 M69.1,98.0 L71.0,99.6 L69.1,101.2 M73.9,98.0 L75.8,99.6 L73.9,101.2 M78.7,98.0 L80.6,99.6 L78.7,101.2 M83.5,98.0 L85.4,99.6 L83.5,101.2 M88.3,98.0 L90.2,99.6 L88.3,101.2 M93.1,98.0 L95.0,99.6 L93.1,101.2 M97.9,98.0 L99.8,99.6 L97.9,101.2 M102.7,98.0 L104.6,99.6 L102.7,101.2 M107.5,98.0 L109.4,99.6 L107.5,101.2 M112.3,98.0 L114.2,99.6 L112.3,101.2 M117.1,98.0 L119.0,99.6 L117.1,101.2 M121.9,98.0 L123.8,99.6 L121.9,101.2 M126.7,98.0 L128.6,99.6 L126.7,101.2 M131.5,98.0 L133.4,99.6 L131.5,101.2 M136.3,98.0 L138.2,99.6 L136.3,101.2 M141.1,98.0 L143.0,99.6 L141.1,101.2 M145.9,98.0 L147.8,99.6 L145.9,101.2 M150.7,98.0 L152.6,99.6 L150.7,101.2 M155.5,98.0 L157.4,99.6 L155.5,101.2 M160.3,98.0 L162.2,99.6 L160.3,101.2 M165.1,98.0 L167.0,99.6 L165.1,101.2 M169.9,98.0 L171.8,99.6 L169.9,101.2 M174.7,98.0 L176.6,99.6 L174.7,101.2 M179.5,98.0 L181.4,99.6 L179.5,101.2 M184.3,98.0 L186.2,99.6 L184.3,101.2 M189.1,98.0 L191.0,99.6 L189.1,101.2 M193.9,98.0 L195.8,99.6 L193.9,101.2 M198.7,98.0 L200.6,99.6 L198.7,101.2 M203.5,98.0 L205.4,99.6 L203.5,101.2 M208.3,98.0 L210.2,99.6 L208.3,101.2 M213.1,98.0 L215.0,99.6 L213.1,101.2 M217.9,98.0 L219.8,99.6 L217.9,101.2 M222.7,98.0 L224.6,99.6 L222.7,101.2 M227.5,98.0 L229.4,99.6 L227.5,101.2 M232.3,98.0 L234.2,99.6 L232.3,101.2 M237.1,98.0 L239.0,99.6 L237.1,101.2 M241.9,98.0 L243.8,99.6 L241.9,101.2 M246.7,98.0 L248.6,99.6 L246.7,101.2 M251.5,98.0 L253.4,99.6 L251.5,101.2 M256.3,98.0 L258.2,99.6 L256.3,101.2 M261.1,98.0 L263.0,99.6 L261.1,101.2 M265.9,98.0 L267.8,99.6 L265.9,101.2 M270.7,98.0 L272.6,99.6 L270.7,101.2 M275.5,98.0 L277.4,99.6 L275.5,101.2 M280.3,98.0 L282.2,99.6 L280.3,101.2 M285.1,98.0 L287.0,99.6 L285.1,101.2 M289.9,98.0 L291.8,99.6 L289.9,101.2 M294.7,98.0 L296.6,99.6 L294.7,101.2 M299.5,98.0 L301.4,99.6 L299.5,101.2 M304.3,98.0 L306.2,99.6 L304.3,101.2 M309.1,98.0 L311.0,99.6 L309.1,101.2 M313.9,98.0 L315.8,99.6 L313.9,101.2 M318.7,98.0 L320.6,99.6 L318.7,101.2 M323.5,98.0 L325.4,99.6 L323.5,101.2 M328.3,98.0 L330.2,99.6 L328.3,101.2 M333.1,98.0 L335.0,99.6 L333.1,101.2 M337.9,98.0 L339.8,99.6 L337.9,101.2 M342.7,98.0 L344.6,99.6 L342.7,101.2 M347.5,98.0 L349.4,99.6 L347.5,101.2 M352.3,98.0 L354.2,99.6 L352.3,101.2 M357.1,98.0 L359.0,99.6 L357.1,101.2 M361.9,98.0 L363.8,99.6 L361.9,101.2 M366.7,98.0 L368.6,99.6 L366.7,101.2 M371.5,98.0 L373.4,99.6 L371.5,101.2 M376.3,98.0 L378.2,99.6 L376.3,101.2 M381.1,98.0 L383.0,99.6 L381.1,101.2 M385.9,98.0 L387.8,99.6 L385.9,101.2 M390.7,98.0 L392.6,99.6 L390.7,101.2 M395.5,98.0 L397.4,99.6 L395.5,101.2 M400.3,98.0 L402.2,99.6 L400.3,101.2 M405.1,98.0 L407.0,99.6 L405.1,101.2 M409.9,98.0 L411.8,99.6 L409.9,101.2" fill="none" stroke="#8e8eae" stroke-width="0.7"/>
<line x1="180.00" y1="109.10" x2="414.00" y2="109.10" stroke="#8e8eae" stroke-width="0.8" />
<path d="M180.7,107.5 L182.6,109.1 L180.7,110.7 M185.5,107.5 L187.4,109.1 L185.5,110.7 M190.3,107.5 L192.2,109.1 L190.3,110.7 M195.1,107.5 L197.0,109.1 L195.1,110.7 M199.9,107.5 L201.8,109.1 L199.9,110.7 M204.7,107.5 L206.6,109.1 L204.7,110.7 M209.5,107.5 L211.4,109.1 L209.5,110.7 M214.3,107.5 L216.2,109.1 L214.3,110.7 M219.1,107.5 L221.0,109.1 L219.1,110.7 M223.9,107.5 L225.8,109.1 L223.9,110.7 M228.7,107.5 L230.6,109.1 L228.7,110.7 M233.5,107.5 L235.4,109.1 L233.5,110.7 M238.3,107.5 L240.2,109.1 L238.3,110.7 M243.1,107.5 L245.0,109.1 L243.1,110.7 M247.9,107.5 L249.8,109.1 L247.9,110.7 M252.7,107.5 L254.6,109.1 L252.7,110.7 M257.5,107.5 L259.4,109.1 L257.5,110.7 M262.3,107.5 L264.2,109.1 L262.3,110.7 M267.1,107.5 L269.0,109.1 L267.1,110.7 M271.9,107.5 L273.8,109.1 L271.9,110.7 M276.7,107.5 L278.6,109.1 L276.7,110.7 M281.5,107.5 L283.4,109.1 L281.5,110.7 M286.3,107.5 L288.2,109.1 L286.3,110.7 M291.1,107.5 L293.0,109.1 L291.1,110.7 M295.9,107.5 L297.8,109.1 L295.9,110.7 M300.7,107.5 L302.6,109.1 L300.7,110.7 M305.5,107.5 L307.4,109.1 L305.5,110.7 M310.3,107.5 L312.2,109.1 L310.3,110.7 M315.1,107.5 L317.0,109.1 L315.1,110.7 M319.9,107.5 L321.8,109.1 L319.9,110.7 M324.7,107.5 L326.6,109.1 L324.7,110.7 M329.5,107.5 L331.4,109.1 L329.5,110.7 M334.3,107.5 L336.2,109.1 L334.3,110.7 M339.1,107.5 L341.0,109.1 L339.1,110.7 M343.9,107.5 L345.8,109.1 L343.9,110.7 M348.7,107.5 L350.6,109.1 L348.7,110.7 M353.5,107.5 L355.4,109.1 L353.5,110.7 M358.3,107.5 L360.2,109.1 L358.3,110.7 M363.1,107.5 L365.0,109.1 L363.1,110.7 M367.9,107.5 L369.8,109.1 L367.9,110.7 M372.7,107.5 L374.6,109.1 L372.7,110.7 M377.5,107.5 L379.4,109.1 L377.5,110.7 M382.3,107.5 L384.2,109.1 L382.3,110.7 M387.1,107.5 L389.0,109.1 L387.1,110.7 M391.9,107.5 L393.8,109.1 L391.9,110.7 M396.7,107.5 L398.6,109.1 L396.7,110.7 M401.5,107.5 L403.4,109.1 L401.5,110.7 M406.3,107.5 L408.2,109.1 L406.3,110.7 M411.1,107.5 L413.0,109.1 L411.1,110.7" fill="none" stroke="#8e8eae" stroke-width="0.7"/>
<rect x="200.80" y="85.20" width="1.80" height="27.60" fill="#16164f" />
<rect x="232.60" y="85.20" width="1.80" height="27.60" fill="#16164f" />
<rect x="291.80" y="85.20" width="1.80" height="27.60" fill="#16164f" />
<rect x="311.40" y="85.20" width="1.80" height="27.60" fill="#16164f" />
<rect x="326.20" y="85.20" width="1.80" height="27.60" fill="#16164f" />
<rect x="340.50" y="85.20" width="1.80" height="27.60" fill="#16164f" />
<rect x="354.50" y="85.20" width="1.80" height="27.60" fill="#16164f" />
<rect x="372.70" y="85.20" width="1.80" height="27.60" fill="#16164f" />
<rect x="388.10" y="85.20" width="1.80" height="27.60" fill="#16164f" />
<rect x="397.20" y="85.00" width="2.80" height="28.00" fill="#16164f" />
<rect x="397.20" y="87.40" width="17.00" height="4.80" fill="#16164f" />
<rect x="397.20" y="97.20" width="17.00" height="4.80" fill="#16164f" />
<rect x="397.20" y="106.80" width="17.00" height="4.80" fill="#16164f" />
<rect x="178.60" y="105.30" width="3.40" height="7.80" fill="#16164f" />
<rect x="290.80" y="114.80" width="4.00" height="7.60" fill="#16164f" />
<rect x="291.80" y="110.00" width="1.80" height="6.00" fill="#16164f" />
<text transform="translate(33.60,141.90) scale(1,1.22)" x="0" y="0" font-family='"Liberation Sans", sans-serif' font-size="7.0" font-weight="normal" text-anchor="end" fill="#1e1e1e">Scale</text>
<text transform="translate(33.60,155.60) scale(1,1.22)" x="0" y="0" font-family='"Liberation Sans", sans-serif' font-size="7.0" font-weight="normal" text-anchor="end" fill="#1e1e1e">chr17:</text>
<text transform="translate(27.80,166.30) scale(1,1.22)" x="0" y="0" font-family='"Liberation Sans", sans-serif' font-size="7.0" font-weight="normal" text-anchor="end" fill="#1e1e1e">80</text>
<line x1="30.20" y1="167.30" x2="34.00" y2="167.30" stroke="#1e1e1e" stroke-width="0.8" />
<text transform="translate(27.80,226.70) scale(1,1.22)" x="0" y="0" font-family='"Liberation Sans", sans-serif' font-size="7.0" font-weight="normal" text-anchor="end" fill="#1e1e1e">0</text>
<line x1="30.20" y1="228.40" x2="34.00" y2="228.40" stroke="#1e1e1e" stroke-width="0.8" />
<text transform="translate(141.50,140.60) scale(1,1.22)" x="0" y="0" font-family='"Liberation Sans", sans-serif' font-size="7.0" font-weight="normal" text-anchor="end" fill="#1e1e1e">5 kb</text>
<line x1="143.30" y1="137.60" x2="319.40" y2="137.60" stroke="#777" stroke-width="0.9" />
<line x1="143.30" y1="133.50" x2="143.30" y2="142.00" stroke="#555" stroke-width="0.8" />
<line x1="319.40" y1="133.50" x2="319.40" y2="142.00" stroke="#555" stroke-width="0.8" />
<text transform="translate(323.70,139.60) scale(1,1.22)" x="0" y="0" font-family='"Liberation Sans", sans-serif' font-size="7.0" font-weight="normal" text-anchor="start" fill="#1e1e1e">mm8</text>
<line x1="147.70" y1="147.20" x2="147.70" y2="155.00" stroke="#444" stroke-width="0.8" />
<text transform="translate(147.10,154.00) scale(1,1.22)" x="0" y="0" font-family='"Liberation Sans", sans-serif' font-size="7.0" font-weight="normal" text-anchor="end" fill="#1e1e1e">15,075,000</text>
<line x1="325.20" y1="147.20" x2="325.20" y2="155.00" stroke="#444" stroke-width="0.8" />
<text transform="translate(324.60,154.00) scale(1,1.22)" x="0" y="0" font-family='"Liberation Sans", sans-serif' font-size="7.0" font-weight="normal" text-anchor="end" fill="#1e1e1e">15,080,000</text>
<text transform="translate(231.20,166.60) scale(1,1.22)" x="0" y="0" font-family='"Liberation Sans", sans-serif' font-size="7.0" font-weight="normal" text-anchor="middle" fill="#1e1e1e">Mash1</text>
<path d="M34.8,229.4 L34.80,227.38 L35.30,227.45 L35.80,227.23 L36.30,226.94 L36.80,227.00 L37.30,226.97 L37.80,226.75 L38.30,226.76 L38.80,226.85 L39.30,227.41 L39.80,227.48 L40.30,227.77 L40.80,227.84 L41.30,228.10 L41.80,227.89 L42.30,227.60 L42.80,227.14 L43.30,226.40 L43.80,226.66 L44.30,226.83 L44.80,227.52 L45.30,227.54 L45.80,227.53 L46.30,227.31 L46.80,227.32 L47.30,227.04 L47.80,227.09 L48.30,226.79 L48.80,226.92 L49.30,227.16 L49.80,227.22 L50.30,227.29 L50.80,227.28 L51.30,227.75 L51.80,227.59 L52.30,227.60 L52.80,227.95 L53.30,227.82 L53.80,228.30 L54.30,228.30 L54.80,228.15 L55.30,228.30 L55.80,228.01 L56.30,228.21 L56.80,228.29 L57.30,228.05 L57.80,228.30 L58.30,228.03 L58.80,228.25 L59.30,228.11 L59.80,227.62 L60.30,227.70 L60.80,227.91 L61.30,227.97 L61.80,227.59 L62.30,227.81 L62.80,227.77 L63.30,228.01 L63.80,227.87 L64.30,228.14 L64.80,228.09 L65.30,227.95 L65.80,227.72 L66.30,227.80 L66.80,227.74 L67.30,227.86 L67.80,227.53 L68.30,227.66 L68.80,227.66 L69.30,227.93 L69.80,227.82 L70.30,227.70 L70.80,227.33 L71.30,227.01 L71.80,226.63 L72.30,226.57 L72.80,226.59 L73.30,226.61 L73.80,226.64 L74.30,226.94 L74.80,226.81 L75.30,227.24 L75.80,226.82 L76.30,226.96 L76.80,226.54 L77.30,226.23 L77.80,226.35 L78.30,226.52 L78.80,226.67 L79.30,227.08 L79.80,227.32 L80.30,227.60 L80.80,227.78 L81.30,228.03 L81.80,228.00 L82.30,228.30 L82.80,228.30 L83.30,228.30 L83.80,228.30 L84.30,228.19 L84.80,228.01 L85.30,227.70 L85.80,227.80 L86.30,227.32 L86.80,227.65 L87.30,227.50 L87.80,227.81 L88.30,227.74 L88.80,227.52 L89.30,226.97 L89.80,227.16 L90.30,226.78 L90.80,227.02 L91.30,227.01 L91.80,227.27 L92.30,227.88 L92.80,228.18 L93.30,228.30 L93.80,228.30 L94.30,228.30 L94.80,228.25 L95.30,227.71 L95.80,227.74 L96.30,227.52 L96.80,227.27 L97.30,227.32 L97.80,227.17 L98.30,227.37 L98.80,227.91 L99.30,228.15 L99.80,227.92 L100.30,227.75 L100.80,227.88 L101.30,227.99 L101.80,227.74 L102.30,228.09 L102.80,227.46 L103.30,226.59 L103.80,226.62 L104.30,227.08 L104.80,227.39 L105.30,227.76 L105.80,228.19 L106.30,227.87 L106.80,227.53 L107.30,227.27 L107.80,226.93 L108.30,226.94 L108.80,226.33 L109.30,226.60 L109.80,226.61 L110.30,227.04 L110.80,227.34 L111.30,227.99 L111.80,228.30 L112.30,228.25 L112.80,228.30 L113.30,228.30 L113.80,228.30 L114.30,227.96 L114.80,228.20 L115.30,227.68 L115.80,227.33 L116.30,226.88 L116.80,226.79 L117.30,226.51 L117.80,226.63 L118.30,226.60 L118.80,226.74 L119.30,226.71 L119.80,226.53 L120.30,227.10 L120.80,227.64 L121.30,227.87 L121.80,228.21 L122.30,228.16 L122.80,228.26 L123.30,228.14 L123.80,228.09 L124.30,227.69 L124.80,227.41 L125.30,226.81 L125.80,226.38 L126.30,226.86 L126.80,227.41 L127.30,227.80 L127.80,227.78 L128.30,227.35 L128.80,227.29 L129.30,227.57 L129.80,227.75 L130.30,227.90 L130.80,227.98 L131.30,228.23 L131.80,228.23 L132.30,227.95 L132.80,227.82 L133.30,227.60 L133.80,226.96 L134.30,227.00 L134.80,226.71 L135.30,226.55 L135.80,226.51 L136.30,226.77 L136.80,226.83 L137.30,227.17 L137.80,227.27 L138.30,227.68 L138.80,227.56 L139.30,227.69 L139.80,227.80 L140.30,228.14 L140.80,228.23 L141.30,227.95 L141.80,227.57 L142.30,226.89 L142.80,226.52 L143.30,226.24 L143.80,226.46 L144.30,226.48 L144.80,227.18 L145.30,227.84 L145.80,227.83 L146.30,227.54 L146.80,227.32 L147.30,227.03 L147.80,227.16 L148.30,227.01 L148.80,226.51 L149.30,226.58 L149.80,226.94 L150.30,227.07 L150.80,226.67 L151.30,226.60 L151.80,226.80 L152.30,227.37 L152.80,228.09 L153.30,228.30 L153.80,228.24 L154.30,228.27 L154.80,228.28 L155.30,228.30 L155.80,228.15 L156.30,227.92 L156.80,227.87 L157.30,228.10 L157.80,227.83 L158.30,227.99 L158.80,227.73 L159.30,227.91 L159.80,227.74 L160.30,227.91 L160.80,228.30 L161.30,228.29 L161.80,227.55 L162.30,227.28 L162.80,226.88 L163.30,226.70 L163.80,226.67 L164.30,226.81 L164.80,226.71 L165.30,226.34 L165.80,226.57 L166.30,227.04 L166.80,227.04 L167.30,227.63 L167.80,228.19 L168.30,227.81 L168.80,228.09 L169.30,227.61 L169.80,227.45 L170.30,227.03 L170.80,227.07 L171.30,226.98 L171.80,226.81 L172.30,226.75 L172.80,226.53 L173.30,226.65 L173.80,226.52 L174.30,226.89 L174.80,226.85 L175.30,226.93 L175.80,226.69 L176.30,226.98 L176.80,227.25 L177.30,227.66 L177.80,227.86 L178.30,227.98 L178.80,227.69 L179.30,227.97 L179.80,228.30 L180.30,228.30 L180.80,228.30 L181.30,228.09 L181.80,228.00 L182.30,228.30 L182.80,228.05 L183.30,228.22 L183.80,227.80 L184.30,227.45 L184.80,227.32 L185.30,227.01 L185.80,227.07 L186.30,227.20 L186.80,226.99 L187.30,227.09 L187.80,227.50 L188.30,227.66 L188.80,227.95 L189.30,228.27 L189.80,227.91 L190.30,227.64 L190.80,227.36 L191.30,227.02 L191.80,226.98 L192.30,226.54 L192.80,226.54 L193.30,226.47 L193.80,226.64 L194.30,226.77 L194.80,227.01 L195.30,227.10 L195.80,227.55 L196.30,227.67 L196.80,227.85 L197.30,227.64 L197.80,227.42 L198.30,227.22 L198.80,227.00 L199.30,226.79 L199.80,226.76 L200.30,226.88 L200.80,227.21 L201.30,227.51 L201.80,227.08 L202.30,227.33 L202.80,227.09 L203.30,227.45 L203.80,227.19 L204.30,227.36 L204.80,227.38 L205.30,227.12 L205.80,226.93 L206.30,226.59 L206.80,226.44 L207.30,226.37 L207.80,226.54 L208.30,226.46 L208.80,226.43 L209.30,226.68 L209.80,225.96 L210.30,225.05 L210.80,223.93 L211.30,222.58 L211.80,220.98 L212.30,219.13 L212.80,217.05 L213.30,214.74 L213.80,212.26 L214.30,209.65 L214.80,206.99 L215.30,204.38 L215.80,201.89 L216.30,199.63 L216.80,197.70 L217.30,196.18 L217.80,195.15 L218.30,194.64 L218.50,194.60 L218.80,194.67 L219.30,195.11 L219.80,195.94 L220.30,197.12 L220.80,198.62 L221.30,200.38 L221.80,202.36 L222.30,204.49 L222.80,206.71 L223.30,208.96 L223.80,211.19 L224.30,213.35 L224.80,215.41 L225.30,217.33 L225.80,219.09 L226.30,220.68 L226.80,222.08 L227.30,223.31 L227.80,224.37 L228.30,225.26 L228.80,226.01 L229.30,226.63 L229.80,227.13 L230.30,227.14 L230.80,227.35 L231.30,227.79 L231.80,228.01 L232.30,227.90 L232.80,227.56 L233.30,227.20 L233.80,226.85 L234.30,226.90 L234.80,226.48 L235.30,226.21 L235.80,226.19 L236.30,226.66 L236.80,226.42 L237.30,226.58 L237.80,226.56 L238.30,227.07 L238.80,227.02 L239.30,227.17 L239.80,227.57 L240.30,227.73 L240.80,227.45 L241.30,227.27 L241.80,227.14 L242.30,227.00 L242.80,226.73 L243.30,227.02 L243.80,226.80 L244.30,226.98 L244.80,227.14 L245.30,227.01 L245.80,226.96 L246.30,226.82 L246.80,226.85 L247.30,227.12 L247.80,226.97 L248.30,227.18 L248.80,227.01 L249.30,226.93 L249.80,226.85 L250.30,226.84 L250.80,226.96 L251.30,227.07 L251.80,227.29 L252.30,227.88 L252.80,227.86 L253.30,227.88 L253.80,228.10 L254.30,228.30 L254.80,227.85 L255.30,227.72 L255.80,227.32 L256.30,227.19 L256.80,226.77 L257.30,226.67 L257.80,227.06 L258.30,226.76 L258.80,226.91 L259.30,227.31 L259.80,227.62 L260.30,227.69 L260.80,227.88 L261.30,227.54 L261.80,227.50 L262.30,227.98 L262.80,228.05 L263.30,227.79 L263.80,227.63 L264.30,227.65 L264.80,227.85 L265.30,227.81 L265.80,227.64 L266.30,227.27 L266.80,227.38 L267.30,227.62 L267.80,227.50 L268.30,227.71 L268.80,227.66 L269.30,227.99 L269.80,227.23 L270.30,226.80 L270.80,226.50 L271.30,226.61 L271.80,227.47 L272.30,228.15 L272.80,227.98 L273.30,228.21 L273.80,227.74 L274.30,227.26 L274.80,227.58 L275.30,227.33 L275.80,227.81 L276.30,228.30 L276.80,228.30 L277.30,228.22 L277.80,228.26 L278.30,228.19 L278.80,228.30 L279.30,228.23 L279.80,227.79 L280.30,228.02 L280.80,228.01 L281.30,228.24 L281.80,228.08 L282.30,227.57 L282.80,227.55 L283.30,227.52 L283.80,227.69 L284.30,227.52 L284.80,227.39 L285.30,227.67 L285.80,227.75 L286.30,227.77 L286.80,228.07 L287.30,228.12 L287.80,228.26 L288.30,228.11 L288.80,227.58 L289.30,227.61 L289.80,227.26 L290.30,227.20 L290.80,227.11 L291.30,227.39 L291.80,227.13 L292.30,227.34 L292.80,227.40 L293.30,227.92 L293.80,227.66 L294.30,227.85 L294.80,227.63 L295.30,227.71 L295.80,228.21 L296.30,228.24 L296.80,228.30 L297.30,227.99 L297.80,227.81 L298.30,227.31 L298.80,227.27 L299.30,226.96 L299.80,226.58 L300.30,226.62 L300.80,226.42 L301.30,226.22 L301.80,226.39 L302.30,226.97 L302.80,227.36 L303.30,227.26 L303.80,227.50 L304.30,227.96 L304.80,228.30 L305.30,228.30 L305.80,227.84 L306.30,227.72 L306.80,228.09 L307.30,227.97 L307.80,227.84 L308.30,227.96 L308.80,227.79 L309.30,228.09 L309.80,228.01 L310.30,228.30 L310.80,227.84 L311.30,227.33 L311.80,227.26 L312.30,227.50 L312.80,227.57 L313.30,227.52 L313.80,227.94 L314.30,228.22 L314.80,228.03 L315.30,227.84 L315.80,227.51 L316.30,227.75 L316.80,227.49 L317.30,227.56 L317.80,227.37 L318.30,227.27 L318.80,227.60 L319.30,227.48 L319.80,227.46 L320.30,227.93 L320.80,227.60 L321.30,227.70 L321.80,227.61 L322.30,227.54 L322.80,227.46 L323.30,227.87 L323.80,227.71 L324.30,227.88 L324.80,227.62 L325.30,227.59 L325.80,227.73 L326.30,227.60 L326.80,227.57 L327.30,227.54 L327.80,227.50 L328.30,227.89 L328.80,227.46 L329.30,227.15 L329.80,227.02 L330.30,227.20 L330.80,227.51 L331.30,228.21 L331.80,228.30 L332.30,227.78 L332.80,228.07 L333.30,227.76 L333.80,227.52 L334.30,227.55 L334.80,227.59 L335.30,227.34 L335.80,227.70 L336.30,227.67 L336.80,227.65 L337.30,227.74 L337.80,227.37 L338.30,227.14 L338.80,227.10 L339.30,227.42 L339.80,227.55 L340.30,228.05 L340.80,228.30 L341.30,228.28 L341.80,228.30 L342.30,227.97 L342.80,228.30 L343.30,228.30 L343.80,228.06 L344.30,228.08 L344.80,228.30 L345.30,228.04 L345.80,228.02 L346.30,227.92 L346.80,227.64 L347.30,227.75 L347.80,227.77 L348.30,227.59 L348.80,228.01 L349.30,227.72 L349.80,227.93 L350.30,227.83 L350.80,227.79 L351.30,227.42 L351.80,227.52 L352.30,227.60 L352.80,227.42 L353.30,226.91 L353.80,227.01 L354.30,226.81 L354.80,227.29 L355.30,227.13 L355.80,227.53 L356.30,227.42 L356.80,227.52 L357.30,227.47 L357.80,227.64 L358.30,227.08 L358.80,227.36 L359.30,227.34 L359.80,227.09 L360.30,227.53 L360.80,227.75 L361.30,227.79 L361.80,227.94 L362.30,227.97 L362.80,227.86 L363.30,227.97 L363.80,227.45 L364.30,227.03 L364.80,227.21 L365.30,226.70 L365.80,226.77 L366.30,226.62 L366.80,226.70 L367.30,226.33 L367.80,226.51 L368.30,226.45 L368.80,226.84 L369.30,226.90 L369.80,226.83 L370.30,226.90 L370.80,226.77 L371.30,227.43 L371.80,227.81 L372.30,227.99 L372.80,228.30 L373.30,228.24 L373.80,228.14 L374.30,227.92 L374.80,227.89 L375.30,227.64 L375.80,227.23 L376.30,226.95 L376.80,226.98 L377.30,226.93 L377.80,226.87 L378.30,227.45 L378.80,227.64 L379.30,227.70 L379.80,227.55 L380.30,227.26 L380.80,227.37 L381.30,227.28 L381.80,227.42 L382.30,227.29 L382.80,227.36 L383.30,227.26 L383.80,226.92 L384.30,226.72 L384.80,226.91 L385.30,227.13 L385.80,227.99 L386.30,228.14 L386.80,228.13 L387.30,227.97 L387.80,228.30 L388.30,228.07 L388.80,228.28 L389.30,228.23 L389.80,226.41 L390.30,222.43 L390.80,218.45 L391.30,214.47 L391.80,210.49 L392.30,206.51 L392.80,202.53 L393.30,198.55 L393.80,194.57 L394.30,190.59 L394.80,186.61 L395.30,182.63 L395.80,178.65 L396.30,174.67 L396.80,170.69 L397.10,168.30 L397.30,169.83 L397.80,173.66 L398.30,177.49 L398.80,181.32 L399.30,185.15 L399.80,188.98 L400.30,192.81 L400.80,196.64 L401.30,200.46 L401.80,204.29 L402.30,208.12 L402.80,211.95 L403.30,215.78 L403.80,219.61 L404.30,223.44 L404.80,227.27 L405.30,227.77 L405.80,227.95 L406.30,228.16 L406.80,227.93 L407.30,228.30 L407.80,228.18 L408.30,228.30 L408.80,227.96 L409.30,228.18 L409.80,227.97 L410.30,227.54 L410.80,226.98 L411.30,226.66 L411.80,227.18 L412.30,227.77 L412.80,228.11 L413.30,227.71 L413.80,227.71 L414.30,227.30 L414.80,226.86 L415.30,226.88 L415.80,226.40 L416.30,226.38 L416.80,226.49 L417.30,226.55 L417.80,226.21 L418.30,226.63 L418.80,226.89 L419.30,226.94 L419.80,227.41 L420.30,227.73 L420.80,228.02 L421.30,227.92 L421.80,228.30 L422.30,228.21 L422.80,228.05 L423.30,227.96 L423.80,228.06 L424.30,227.97 L424.80,227.74 L425.30,227.83 L425.80,227.98 L426.30,227.25 L426.80,227.43 L427.30,227.23 L427.5,229.4 Z" fill="#000"/>
<text transform="translate(254.40,238.60) scale(1,1.22)" x="0" y="0" font-family='"Liberation Sans", sans-serif' font-size="7.0" font-weight="normal" text-anchor="end" fill="#1e1e1e">RefSeq Genes</text>
<text x="33.50" y="250.60" font-family='"Liberation Sans", sans-serif' font-size="9.0" font-weight="normal" text-anchor="end" fill="#34344a" textLength="11.6" lengthAdjust="spacingAndGlyphs">Dll1</text>
<line x1="52.00" y1="247.10" x2="352.00" y2="247.10" stroke="#8e8eae" stroke-width="0.8" />
<path d="M55.3,245.5 L53.4,247.1 L55.3,248.7 M60.1,245.5 L58.2,247.1 L60.1,248.7 M64.9,245.5 L63.0,247.1 L64.9,248.7 M69.7,245.5 L67.8,247.1 L69.7,248.7 M74.5,245.5 L72.6,247.1 L74.5,248.7 M79.3,245.5 L77.4,247.1 L79.3,248.7 M84.1,245.5 L82.2,247.1 L84.1,248.7 M88.9,245.5 L87.0,247.1 L88.9,248.7 M93.7,245.5 L91.8,247.1 L93.7,248.7 M98.5,245.5 L96.6,247.1 L98.5,248.7 M103.3,245.5 L101.4,247.1 L103.3,248.7 M108.1,245.5 L106.2,247.1 L108.1,248.7 M112.9,245.5 L111.0,247.1 L112.9,248.7 M117.7,245.5 L115.8,247.1 L117.7,248.7 M122.5,245.5 L120.6,247.1 L122.5,248.7 M127.3,245.5 L125.4,247.1 L127.3,248.7 M132.1,245.5 L130.2,247.1 L132.1,248.7 M136.9,245.5 L135.0,247.1 L136.9,248.7 M141.7,245.5 L139.8,247.1 L141.7,248.7 M146.5,245.5 L144.6,247.1 L146.5,248.7 M151.3,245.5 L149.4,247.1 L151.3,248.7 M156.1,245.5 L154.2,247.1 L156.1,248.7 M160.9,245.5 L159.0,247.1 L160.9,248.7 M165.7,245.5 L163.8,247.1 L165.7,248.7 M170.5,245.5 L168.6,247.1 L170.5,248.7 M175.3,245.5 L173.4,247.1 L175.3,248.7 M180.1,245.5 L178.2,247.1 L180.1,248.7 M184.9,245.5 L183.0,247.1 L184.9,248.7 M189.7,245.5 L187.8,247.1 L189.7,248.7 M194.5,245.5 L192.6,247.1 L194.5,248.7 M199.3,245.5 L197.4,247.1 L199.3,248.7 M204.1,245.5 L202.2,247.1 L204.1,248.7 M208.9,245.5 L207.0,247.1 L208.9,248.7 M213.7,245.5 L211.8,247.1 L213.7,248.7 M218.5,245.5 L216.6,247.1 L218.5,248.7 M223.3,245.5 L221.4,247.1 L223.3,248.7 M228.1,245.5 L226.2,247.1 L228.1,248.7 M232.9,245.5 L231.0,247.1 L232.9,248.7 M237.7,245.5 L235.8,247.1 L237.7,248.7 M242.5,245.5 L240.6,247.1 L242.5,248.7 M247.3,245.5 L245.4,247.1 L247.3,248.7 M252.1,245.5 L250.2,247.1 L252.1,248.7 M256.9,245.5 L255.0,247.1 L256.9,248.7 M261.7,245.5 L259.8,247.1 L261.7,248.7 M266.5,245.5 L264.6,247.1 L266.5,248.7 M271.3,245.5 L269.4,247.1 L271.3,248.7 M276.1,245.5 L274.2,247.1 L276.1,248.7 M280.9,245.5 L279.0,247.1 L280.9,248.7 M285.7,245.5 L283.8,247.1 L285.7,248.7 M290.5,245.5 L288.6,247.1 L290.5,248.7 M295.3,245.5 L293.4,247.1 L295.3,248.7 M300.1,245.5 L298.2,247.1 L300.1,248.7 M304.9,245.5 L303.0,247.1 L304.9,248.7 M309.7,245.5 L307.8,247.1 L309.7,248.7 M314.5,245.5 L312.6,247.1 L314.5,248.7 M319.3,245.5 L317.4,247.1 L319.3,248.7 M324.1,245.5 L322.2,247.1 L324.1,248.7 M328.9,245.5 L327.0,247.1 L328.9,248.7 M333.7,245.5 L331.8,247.1 L333.7,248.7 M338.5,245.5 L336.6,247.1 L338.5,248.7 M343.3,245.5 L341.4,247.1 L343.3,248.7 M348.1,245.5 L346.2,247.1 L348.1,248.7" fill="none" stroke="#8e8eae" stroke-width="0.7"/>
<rect x="52.10" y="244.40" width="23.40" height="5.80" fill="#16164f" />
<rect x="75.60" y="241.20" width="0.90" height="11.20" fill="#16164f" />
<rect x="79.50" y="241.40" width="4.10" height="11.00" fill="#16164f" />
<rect x="88.10" y="241.40" width="28.40" height="11.00" fill="#16164f" />
<rect x="152.90" y="241.40" width="8.20" height="11.00" fill="#16164f" />
<rect x="165.00" y="241.40" width="5.90" height="11.00" fill="#16164f" />
<rect x="175.20" y="241.40" width="4.90" height="11.00" fill="#16164f" />
<rect x="202.50" y="241.40" width="2.70" height="11.00" fill="#16164f" />
<rect x="267.90" y="241.40" width="9.40" height="11.00" fill="#16164f" />
<rect x="283.70" y="241.40" width="2.60" height="11.00" fill="#16164f" />
<rect x="311.90" y="241.40" width="10.20" height="11.00" fill="#16164f" />
<rect x="330.20" y="241.40" width="2.50" height="11.00" fill="#16164f" />
<rect x="332.70" y="243.70" width="20.00" height="6.30" fill="#16164f" />
<rect x="436.80" y="2.00" width="80.00" height="113.30" fill="#f4f0ee" />
<defs><filter id="bl" x="-20%" y="-20%" width="140%" height="140%"><feGaussianBlur stdDeviation="1.0"/></filter>
<filter id="bl2" x="-50%" y="-50%" width="200%" height="200%"><feGaussianBlur stdDeviation="2.2"/></filter>
<filter id="bl3" x="-50%" y="-50%" width="200%" height="200%"><feGaussianBlur stdDeviation="0.35"/></filter>
<radialGradient id="eg" cx="0.58" cy="0.5" r="0.62"><stop offset="0" stop-color="#dedfe7"/><stop offset="0.55" stop-color="#d2d4de"/><stop offset="1" stop-color="#bcc0cf"/></radialGradient></defs>
<path d="M466,8 C473,7 479,8.5 484,13 C486,15.5 488,17.5 492,19 C498,22 503,27 505.5,33 C508,41 508,52 507.5,62 C507,73 505,83 500,90 C496,96 490,100 483,102 C476,103 469,101 465,97 C461,93 458.5,87 457,80 C455.5,72 454,64 450,58 C446,53 443,48 442.5,41 C442,34 443,28 446,22 C450,14 457,9 466,8 Z" fill="url(#eg)" filter="url(#bl)"/>
<path d="M478,32 C490,32 499,44 500,60 C501,76 495,89 484,92 C472,94 463,86 461,73 C459,58 465,33 478,32 Z" fill="#e0e0e8" filter="url(#bl2)" opacity="0.8"/>
<path d="M471,58 C477,54 486,56 488,63 C490,71 486,79 479,80 C472,80 467,73 468,66 Z" fill="#d6c9c9" filter="url(#bl2)"/>
<path d="M474,62 C478,60 483,62 483,66 C482,71 478,74 475,72 C472,70 472,65 474,62 Z" fill="#c9b9b8" filter="url(#bl2)"/>
<path d="M461,64 C465,62 470,63 470,66 C469,70 465,71 461,69 Z" fill="#f4f1f1" filter="url(#bl2)"/>
<path d="M477,24 C479,19 483,16 486,17 C488,19 485,24 481,26.5 Z" fill="#f0eaea" filter="url(#bl2)"/>
<circle cx="457.2" cy="42.9" r="1.45" fill="#1c2452" filter="url(#bl3)"/>
<circle cx="455.4" cy="49.8" r="1.45" fill="#1c2452" filter="url(#bl3)"/>
<circle cx="454.7" cy="56.2" r="1.45" fill="#1c2452" filter="url(#bl3)"/>
<circle cx="455.1" cy="63.2" r="1.45" fill="#1c2452" filter="url(#bl3)"/>
<circle cx="455.6" cy="70.1" r="1.45" fill="#1c2452" filter="url(#bl3)"/>
<circle cx="456.8" cy="77.0" r="1.45" fill="#1c2452" filter="url(#bl3)"/>
<circle cx="458.2" cy="83.9" r="1.45" fill="#1c2452" filter="url(#bl3)"/>
<circle cx="461.5" cy="89.6" r="1.45" fill="#1c2452" filter="url(#bl3)"/>
<circle cx="467.2" cy="93.5" r="1.45" fill="#1c2452" filter="url(#bl3)"/>
<circle cx="473.6" cy="95.2" r="1.45" fill="#1c2452" filter="url(#bl3)"/>
<circle cx="480.5" cy="95.2" r="1.45" fill="#1c2452" filter="url(#bl3)"/>
<circle cx="487.1" cy="93.5" r="1.45" fill="#1c2452" filter="url(#bl3)"/>
<circle cx="492.3" cy="89.1" r="1.45" fill="#1c2452" filter="url(#bl3)"/>
<circle cx="496.6" cy="83.9" r="1.45" fill="#1c2452" filter="url(#bl3)"/>
<circle cx="499.6" cy="77.4" r="1.45" fill="#1c2452" filter="url(#bl3)"/>
<circle cx="501.8" cy="71.0" r="1.45" fill="#1c2452" filter="url(#bl3)"/>
<circle cx="502.7" cy="64.4" r="1.45" fill="#1c2452" filter="url(#bl3)"/>
<circle cx="502.7" cy="57.6" r="1.45" fill="#1c2452" filter="url(#bl3)"/>
<circle cx="502.3" cy="50.7" r="1.45" fill="#1c2452" filter="url(#bl3)"/>
<circle cx="501.8" cy="44.1" r="1.45" fill="#1c2452" filter="url(#bl3)"/>
<circle cx="500.1" cy="37.2" r="1.45" fill="#1c2452" filter="url(#bl3)"/>
<circle cx="496.6" cy="31.5" r="1.45" fill="#1c2452" filter="url(#bl3)"/>
<circle cx="490.9" cy="28.0" r="1.45" fill="#1c2452" filter="url(#bl3)"/>
<circle cx="491.4" cy="22.2" r="1.45" fill="#1c2452" filter="url(#bl3)"/>
<line x1="496.30" y1="92.50" x2="496.30" y2="124.50" stroke="#000" stroke-width="1.3" />
<path d="M493.6,123 L499.1,123 L496.35,129.3 Z" fill="#000"/>
<text x="473.90" y="145.00" font-family='"Liberation Sans", sans-serif' font-size="11.7" font-weight="normal" text-anchor="middle" fill="#2a2a2a" >Dorsal</text>
<text x="473.80" y="158.80" font-family='"Liberation Sans", sans-serif' font-size="11.7" font-weight="normal" text-anchor="middle" fill="#2a2a2a" letter-spacing="-0.25">Spinal Cord</text>
<path d="M476,169.3 C484,169.3 490,172 494.3,184.5 C496.5,190 497.5,198 497.5,206.1 C497,211 495.5,214.7 492,218 C488,221 485,222 482.5,221.7 C479.5,221.5 477,220.5 475.5,219.3 C474,220.5 471.5,221.8 469.5,221.7 C466,221.7 463,221 460.5,219 C458,217 456.5,214 455,209.3 C453.8,205 453.6,198 454.5,192.1 C455.5,186 458,180 462,175.5 C466,171.5 471,169.4 476,169.3 Z" fill="#ababab" stroke="#3c3c3c" stroke-width="0.9"/>
<path d="M463,175 C458,182 455,192 455.5,203 M490.5,176 C494,182 496,188 497,195" stroke="#555" stroke-width="0.6" fill="none"/>
<path d="M470.6,169.5 L473.8,182.6 L479.8,182.6 L475.5,169.0 Z" fill="#c8c8c8"/>
<path d="M470.6,169.5 L473.8,182.6 M475.5,169.0 L479.8,182.6" stroke="#555" stroke-width="0.6" fill="none"/>
<rect x="449.3" y="163.6" width="52.9" height="38.2" fill="none" stroke="#1a1a1a" stroke-width="1.3" stroke-dasharray="4.4,2.8"/>
<path d="M464.2,186.2 C467,184 470.5,183.4 473.3,183.5 L476.5,189.2 L480.3,183.5 C483.5,183.3 487,183.6 489.5,185 C491.5,186.3 492.8,188.5 493.4,191 L493.6,195.2 C490.5,195.3 487.8,196.5 487.8,199 C487.8,201.5 490.5,202.8 493.6,202.9 C494.5,205 494.6,208 494,210.5 C493.2,213.5 491,216 487,216.9 C484,217.4 481.5,216.7 479.5,215.4 L476.5,213.2 L473.5,215.4 C471.5,216.7 468.5,217.5 465.5,216.9 C462.5,216.2 460.8,213.8 460.4,210.5 C460,207.5 460.4,205 461.6,202.9 C464.5,202.8 465.9,201.3 465.9,199 C465.9,196.8 464.5,195.3 461.8,195.2 L461.5,191 C462,189 462.8,187.3 464.2,186.2 Z" fill="#000"/>
<text x="477.60" y="232.60" font-family='"Liberation Sans", sans-serif' font-size="11.0" font-weight="normal" text-anchor="middle" fill="#222" >E12.5</text>
</svg>
</body></html>
